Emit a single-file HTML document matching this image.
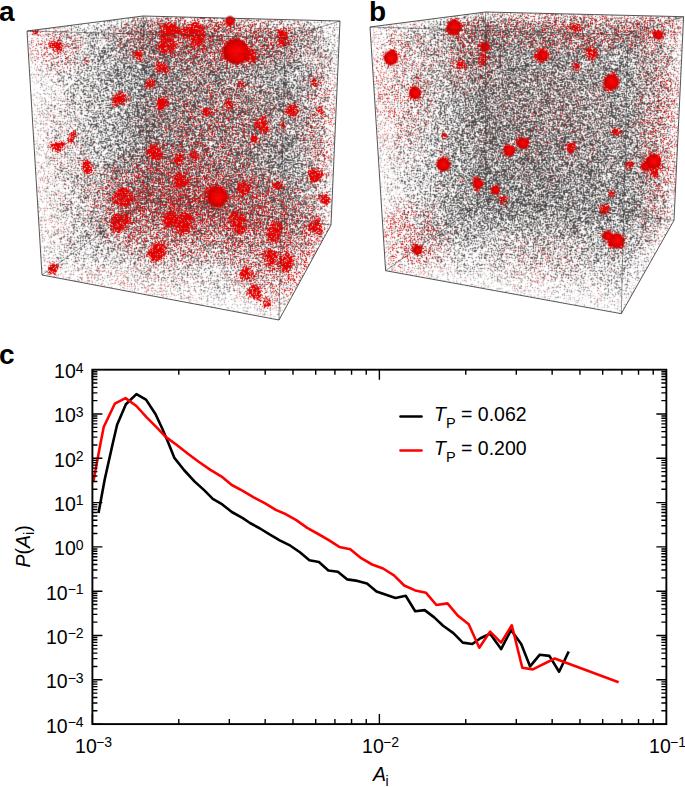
<!DOCTYPE html>
<html><head><meta charset="utf-8"><style>
html,body{margin:0;padding:0;background:#fff;}
svg{display:block;}
text{font-family:"Liberation Sans", sans-serif;fill:#000;}
.t{font-size:19.5px;}
.sup{font-size:14px;}
.lbl{font-size:28px;font-weight:bold;}
</style></head><body>
<svg width="685" height="787" viewBox="0 0 685 787">
<rect width="685" height="787" fill="#fff"/>
<defs>
<clipPath id="ca"><polygon points="27,31 143,16 340,21 331,225 279,320 42,275"/></clipPath>
<clipPath id="cb"><polygon points="370,27 485.5,12 683.6,16.7 674,220.3 621.3,313.7 385.6,270.7"/></clipPath>
<filter id="fg" filterUnits="userSpaceOnUse" primitiveUnits="userSpaceOnUse" x="0" y="0" width="685" height="330" color-interpolation-filters="sRGB">
<feGaussianBlur in="SourceGraphic" stdDeviation="3" result="s"/>
<feTurbulence type="fractalNoise" baseFrequency="2.7" numOctaves="1" seed="5"/>
<feColorMatrix type="matrix" values="1 0 0 0 0 1 0 0 0 0 1 0 0 0 0 0 0 0 0 1"/>
<feComponentTransfer result="ng"><feFuncR type="table" tableValues="1.000 1.000 1.000 1.000 1.000 0.999 0.998 0.995 0.990 0.979 0.959 0.926 0.876 0.807 0.719 0.614 0.500 0.386 0.281 0.193 0.124 0.074 0.041 0.021 0.010 0.005 0.002 0.001 0.000 0.000 0.000 0.000 0.000"/><feFuncG type="table" tableValues="1.000 1.000 1.000 1.000 1.000 0.999 0.998 0.995 0.990 0.979 0.959 0.926 0.876 0.807 0.719 0.614 0.500 0.386 0.281 0.193 0.124 0.074 0.041 0.021 0.010 0.005 0.002 0.001 0.000 0.000 0.000 0.000 0.000"/><feFuncB type="table" tableValues="1.000 1.000 1.000 1.000 1.000 0.999 0.998 0.995 0.990 0.979 0.959 0.926 0.876 0.807 0.719 0.614 0.500 0.386 0.281 0.193 0.124 0.074 0.041 0.021 0.010 0.005 0.002 0.001 0.000 0.000 0.000 0.000 0.000"/></feComponentTransfer>
<feComposite in="s" in2="ng" operator="arithmetic" k1="0" k2="4.0" k3="4.0" k4="-3.500"/>
<feConvolveMatrix order="3" kernelMatrix="0 1 0 1 4 1 0 1 0" edgeMode="duplicate"/>
<feComponentTransfer><feFuncR type="linear" slope="0.700" intercept="0.3"/><feFuncG type="linear" slope="0.700" intercept="0.3"/><feFuncB type="linear" slope="0.700" intercept="0.3"/></feComponentTransfer>
</filter>
<filter id="fr" filterUnits="userSpaceOnUse" primitiveUnits="userSpaceOnUse" x="0" y="0" width="685" height="330" color-interpolation-filters="sRGB">
<feGaussianBlur in="SourceAlpha" stdDeviation="1.6" result="s"/>
<feTurbulence type="fractalNoise" baseFrequency="1.5" numOctaves="1" seed="11"/>
<feColorMatrix type="matrix" values="0 0 0 0 0 0 0 0 0 0 0 0 0 0 0 1 0 0 0 0"/>
<feComponentTransfer result="ng"><feFuncA type="table" tableValues="1.000 1.000 1.000 1.000 1.000 0.999 0.998 0.995 0.990 0.979 0.959 0.926 0.876 0.807 0.719 0.614 0.500 0.386 0.281 0.193 0.124 0.074 0.041 0.021 0.010 0.005 0.002 0.001 0.000 0.000 0.000 0.000 0.000"/></feComponentTransfer>
<feComposite in="s" in2="ng" operator="arithmetic" k1="0" k2="5.0" k3="5.0" k4="-5.0"/>
<feColorMatrix type="matrix" values="0 0 0 0 0.9 0 0 0 0 0 0 0 0 0 0 0 0 0 1 0"/>
<feConvolveMatrix order="3" kernelMatrix="0 1 0 1 6 1 0 1 0" edgeMode="duplicate"/>
</filter>
<radialGradient id="hz"><stop offset="0" stop-color="#000"/><stop offset="0.5" stop-color="#000" stop-opacity="0.7"/><stop offset="1" stop-color="#000" stop-opacity="0"/></radialGradient>
<radialGradient id="cl"><stop offset="0" stop-color="#000"/><stop offset="0.45" stop-color="#000"/><stop offset="1" stop-color="#000" stop-opacity="0"/></radialGradient>
<radialGradient id="sph" cx="0.55" cy="0.5" r="0.6"><stop offset="0" stop-color="#ff0808"/><stop offset="0.55" stop-color="#e80000"/><stop offset="1" stop-color="#b00000"/></radialGradient>
<filter id="fs" filterUnits="userSpaceOnUse" primitiveUnits="userSpaceOnUse" x="0" y="0" width="685" height="330" color-interpolation-filters="sRGB">
<feTurbulence type="fractalNoise" baseFrequency="1.1" numOctaves="1" seed="3"/>
<feColorMatrix type="matrix" values="0 0 0 0 0.5 0 0 0 0 0 0 0 0 0 0 -4 0 0 0 1.7"/>
<feComposite operator="in" in2="SourceAlpha" result="sp"/>
<feMerge><feMergeNode in="SourceGraphic"/><feMergeNode in="sp"/></feMerge>
<feConvolveMatrix order="3" kernelMatrix="1 2 1 2 4 2 1 2 1" edgeMode="duplicate"/>
</filter>
</defs>
<g clip-path="url(#ca)"><g filter="url(#fg)"><rect width="345" height="330" fill="#fff"/>
<path fill="#595959" d="M150 195h5v5h-5z"/>
<path fill="#606060" d="M150 135h5v5h-5zM150 155h5v5h-5zM155 160h5v5h-5zM155 165h10v5h-10zM145 170h10v5h-10zM150 175h5v5h-5zM160 175h10v5h-10zM145 180h10v5h-10zM160 180h5v5h-5zM185 180h5v5h-5zM145 185h20v5h-20zM180 185h5v5h-5zM145 190h10v5h-10zM185 190h5v5h-5zM145 195h5v5h-5zM155 195h10v5h-10zM170 195h5v5h-5zM145 200h5v5h-5zM155 200h20v5h-20z"/>
<path fill="#666666" d="M160 55h5v5h-5zM150 65h5v5h-5zM150 80h5v5h-5zM150 85h5v5h-5zM145 90h10v5h-10zM150 95h15v5h-15zM145 105h15v5h-15zM175 105h5v5h-5zM145 110h15v5h-15zM145 115h15v5h-15zM165 115h5v5h-5zM145 120h10v5h-10zM160 120h10v5h-10zM140 125h15v5h-15zM160 125h15v5h-15zM145 130h20v5h-20zM140 135h10v5h-10zM155 135h5v5h-5zM165 135h15v5h-15zM195 135h5v5h-5zM150 140h15v5h-15zM200 140h5v5h-5zM140 145h45v5h-45zM200 145h5v5h-5zM145 150h15v5h-15zM165 150h10v5h-10zM180 150h15v5h-15zM140 155h10v5h-10zM155 155h5v5h-5zM170 155h5v5h-5zM145 160h10v5h-10zM160 160h5v5h-5zM170 160h10v5h-10zM145 165h10v5h-10zM165 165h20v5h-20zM195 165h5v5h-5zM140 170h5v5h-5zM155 170h50v5h-50zM145 175h5v5h-5zM155 175h5v5h-5zM175 175h10v5h-10zM190 175h5v5h-5zM140 180h5v5h-5zM155 180h5v5h-5zM165 180h20v5h-20zM195 180h10v5h-10zM140 185h5v5h-5zM165 185h15v5h-15zM185 185h10v5h-10zM205 185h5v5h-5zM140 190h5v5h-5zM155 190h30v5h-30zM195 190h5v5h-5zM210 190h5v5h-5zM140 195h5v5h-5zM165 195h5v5h-5zM175 195h15v5h-15zM195 195h10v5h-10zM140 200h5v5h-5zM150 200h5v5h-5zM175 200h25v5h-25zM205 200h15v5h-15zM155 205h5v5h-5zM175 205h10v5h-10zM190 205h20v5h-20zM215 205h5v5h-5z"/>
<path fill="#6c6c6c" d="M140 35h20v5h-20zM145 40h20v5h-20zM150 45h15v5h-15zM175 45h5v5h-5zM145 50h5v5h-5zM155 50h5v5h-5zM165 50h10v5h-10zM185 50h5v5h-5zM140 55h5v5h-5zM150 55h5v5h-5zM140 60h5v5h-5zM155 60h10v5h-10zM180 60h5v5h-5zM145 65h5v5h-5zM155 65h10v5h-10zM170 65h5v5h-5zM140 70h25v5h-25zM170 70h5v5h-5zM180 70h5v5h-5zM140 75h40v5h-40zM140 80h10v5h-10zM155 80h15v5h-15zM180 80h5v5h-5zM140 85h10v5h-10zM155 85h5v5h-5zM165 85h10v5h-10zM180 85h10v5h-10zM140 90h5v5h-5zM155 90h20v5h-20zM180 90h5v5h-5zM190 90h5v5h-5zM140 95h10v5h-10zM175 95h10v5h-10zM140 100h45v5h-45zM190 100h10v5h-10zM140 105h5v5h-5zM160 105h15v5h-15zM180 105h5v5h-5zM190 105h5v5h-5zM205 105h5v5h-5zM140 110h5v5h-5zM160 110h15v5h-15zM180 110h25v5h-25zM140 115h5v5h-5zM160 115h5v5h-5zM170 115h25v5h-25zM140 120h5v5h-5zM155 120h5v5h-5zM170 120h40v5h-40zM155 125h5v5h-5zM175 125h25v5h-25zM140 130h5v5h-5zM165 130h45v5h-45zM220 130h5v5h-5zM160 135h5v5h-5zM180 135h15v5h-15zM200 135h10v5h-10zM225 135h5v5h-5zM140 140h10v5h-10zM165 140h10v5h-10zM180 140h20v5h-20zM210 140h10v5h-10zM185 145h15v5h-15zM215 145h5v5h-5zM135 150h10v5h-10zM160 150h5v5h-5zM175 150h5v5h-5zM195 150h20v5h-20zM230 150h5v5h-5zM135 155h5v5h-5zM160 155h10v5h-10zM175 155h45v5h-45zM135 160h10v5h-10zM165 160h5v5h-5zM180 160h30v5h-30zM220 160h5v5h-5zM235 160h5v5h-5zM140 165h5v5h-5zM185 165h10v5h-10zM200 165h5v5h-5zM210 165h15v5h-15zM205 170h20v5h-20zM250 170h5v5h-5zM135 175h10v5h-10zM170 175h5v5h-5zM185 175h5v5h-5zM195 175h15v5h-15zM215 175h25v5h-25zM135 180h5v5h-5zM190 180h5v5h-5zM205 180h25v5h-25zM235 180h5v5h-5zM135 185h5v5h-5zM195 185h10v5h-10zM210 185h25v5h-25zM245 185h5v5h-5zM135 190h5v5h-5zM190 190h5v5h-5zM200 190h10v5h-10zM215 190h25v5h-25zM245 190h5v5h-5zM135 195h5v5h-5zM190 195h5v5h-5zM205 195h25v5h-25zM235 195h10v5h-10zM200 200h5v5h-5zM220 200h20v5h-20zM245 200h5v5h-5zM140 205h15v5h-15zM160 205h15v5h-15zM185 205h5v5h-5zM210 205h5v5h-5zM220 205h20v5h-20zM200 210h40v5h-40zM245 210h20v5h-20z"/>
<path fill="#737373" d="M145 30h15v5h-15zM135 35h5v5h-5zM160 35h20v5h-20zM190 35h5v5h-5zM200 35h5v5h-5zM210 35h5v5h-5zM135 40h10v5h-10zM165 40h10v5h-10zM180 40h5v5h-5zM190 40h20v5h-20zM135 45h15v5h-15zM165 45h10v5h-10zM180 45h10v5h-10zM195 45h10v5h-10zM135 50h10v5h-10zM150 50h5v5h-5zM160 50h5v5h-5zM175 50h10v5h-10zM190 50h10v5h-10zM210 50h5v5h-5zM220 50h5v5h-5zM135 55h5v5h-5zM145 55h5v5h-5zM155 55h5v5h-5zM165 55h25v5h-25zM195 55h15v5h-15zM145 60h10v5h-10zM165 60h15v5h-15zM185 60h15v5h-15zM205 60h10v5h-10zM220 60h5v5h-5zM135 65h10v5h-10zM165 65h5v5h-5zM175 65h25v5h-25zM205 65h20v5h-20zM135 70h5v5h-5zM165 70h5v5h-5zM175 70h5v5h-5zM185 70h15v5h-15zM220 70h5v5h-5zM180 75h30v5h-30zM215 75h5v5h-5zM135 80h5v5h-5zM170 80h10v5h-10zM185 80h5v5h-5zM195 80h10v5h-10zM225 80h5v5h-5zM135 85h5v5h-5zM160 85h5v5h-5zM175 85h5v5h-5zM190 85h20v5h-20zM215 85h5v5h-5zM175 90h5v5h-5zM185 90h5v5h-5zM195 90h35v5h-35zM135 95h5v5h-5zM165 95h10v5h-10zM185 95h35v5h-35zM135 100h5v5h-5zM185 100h5v5h-5zM200 100h20v5h-20zM240 100h5v5h-5zM135 105h5v5h-5zM185 105h5v5h-5zM195 105h10v5h-10zM210 105h10v5h-10zM225 105h10v5h-10zM135 110h5v5h-5zM175 110h5v5h-5zM205 110h5v5h-5zM220 110h10v5h-10zM235 110h10v5h-10zM135 115h5v5h-5zM195 115h35v5h-35zM255 115h5v5h-5zM275 115h5v5h-5zM135 120h5v5h-5zM210 120h25v5h-25zM270 120h5v5h-5zM130 125h10v5h-10zM200 125h45v5h-45zM250 125h10v5h-10zM130 130h10v5h-10zM210 130h10v5h-10zM225 130h15v5h-15zM250 130h5v5h-5zM260 130h5v5h-5zM135 135h5v5h-5zM210 135h15v5h-15zM230 135h15v5h-15zM135 140h5v5h-5zM175 140h5v5h-5zM205 140h5v5h-5zM220 140h20v5h-20zM245 140h10v5h-10zM135 145h5v5h-5zM205 145h10v5h-10zM220 145h15v5h-15zM240 145h10v5h-10zM215 150h15v5h-15zM235 150h10v5h-10zM250 150h5v5h-5zM265 150h10v5h-10zM130 155h5v5h-5zM220 155h40v5h-40zM130 160h5v5h-5zM210 160h10v5h-10zM225 160h10v5h-10zM240 160h20v5h-20zM135 165h5v5h-5zM205 165h5v5h-5zM225 165h50v5h-50zM135 170h5v5h-5zM225 170h25v5h-25zM260 170h5v5h-5zM130 175h5v5h-5zM210 175h5v5h-5zM240 175h25v5h-25zM275 175h5v5h-5zM230 180h5v5h-5zM240 180h25v5h-25zM130 185h5v5h-5zM235 185h10v5h-10zM250 185h30v5h-30zM130 190h5v5h-5zM240 190h5v5h-5zM250 190h20v5h-20zM275 190h5v5h-5zM130 195h5v5h-5zM230 195h5v5h-5zM245 195h20v5h-20zM270 195h10v5h-10zM130 200h10v5h-10zM240 200h5v5h-5zM250 200h30v5h-30zM130 205h10v5h-10zM240 205h35v5h-35zM280 205h5v5h-5zM140 210h15v5h-15zM160 210h40v5h-40zM240 210h5v5h-5zM265 210h15v5h-15zM250 215h5v5h-5zM265 215h15v5h-15z"/>
<path fill="#797979" d="M140 30h5v5h-5zM160 30h25v5h-25zM130 35h5v5h-5zM180 35h10v5h-10zM195 35h5v5h-5zM205 35h5v5h-5zM215 35h15v5h-15zM235 35h10v5h-10zM130 40h5v5h-5zM175 40h5v5h-5zM185 40h5v5h-5zM210 40h25v5h-25zM240 40h5v5h-5zM250 40h5v5h-5zM130 45h5v5h-5zM190 45h5v5h-5zM205 45h10v5h-10zM220 45h15v5h-15zM240 45h10v5h-10zM255 45h5v5h-5zM130 50h5v5h-5zM200 50h10v5h-10zM215 50h5v5h-5zM225 50h10v5h-10zM245 50h10v5h-10zM190 55h5v5h-5zM210 55h35v5h-35zM135 60h5v5h-5zM200 60h5v5h-5zM215 60h5v5h-5zM225 60h30v5h-30zM130 65h5v5h-5zM200 65h5v5h-5zM225 65h20v5h-20zM130 70h5v5h-5zM200 70h20v5h-20zM225 70h25v5h-25zM130 75h10v5h-10zM210 75h5v5h-5zM220 75h20v5h-20zM245 75h5v5h-5zM255 75h5v5h-5zM130 80h5v5h-5zM190 80h5v5h-5zM205 80h20v5h-20zM230 80h20v5h-20zM255 80h5v5h-5zM270 80h5v5h-5zM130 85h5v5h-5zM210 85h5v5h-5zM220 85h45v5h-45zM130 90h10v5h-10zM230 90h10v5h-10zM250 90h15v5h-15zM270 90h5v5h-5zM130 95h5v5h-5zM220 95h40v5h-40zM265 95h10v5h-10zM130 100h5v5h-5zM220 100h20v5h-20zM245 100h15v5h-15zM265 100h10v5h-10zM280 100h5v5h-5zM130 105h5v5h-5zM220 105h5v5h-5zM235 105h40v5h-40zM130 110h5v5h-5zM210 110h10v5h-10zM230 110h5v5h-5zM245 110h15v5h-15zM265 110h5v5h-5zM275 110h5v5h-5zM130 115h5v5h-5zM230 115h20v5h-20zM260 115h15v5h-15zM130 120h5v5h-5zM235 120h30v5h-30zM125 125h5v5h-5zM245 125h5v5h-5zM260 125h30v5h-30zM125 130h5v5h-5zM240 130h10v5h-10zM255 130h5v5h-5zM265 130h15v5h-15zM125 135h10v5h-10zM245 135h40v5h-40zM130 140h5v5h-5zM240 140h5v5h-5zM255 140h30v5h-30zM130 145h5v5h-5zM235 145h5v5h-5zM250 145h40v5h-40zM130 150h5v5h-5zM245 150h5v5h-5zM255 150h10v5h-10zM275 150h10v5h-10zM125 155h5v5h-5zM260 155h20v5h-20zM260 160h25v5h-25zM125 165h10v5h-10zM275 165h10v5h-10zM130 170h5v5h-5zM255 170h5v5h-5zM265 170h20v5h-20zM265 175h10v5h-10zM280 175h5v5h-5zM125 180h10v5h-10zM265 180h25v5h-25zM280 185h5v5h-5zM270 190h5v5h-5zM280 190h10v5h-10zM265 195h5v5h-5zM280 195h5v5h-5zM125 200h5v5h-5zM280 200h10v5h-10zM275 205h5v5h-5zM125 210h15v5h-15zM155 210h5v5h-5zM280 210h10v5h-10zM140 215h5v5h-5zM160 215h90v5h-90zM255 215h10v5h-10zM280 215h5v5h-5zM220 220h5v5h-5zM240 220h5v5h-5zM250 220h5v5h-5zM260 220h5v5h-5zM270 220h15v5h-15z"/>
<path fill="#808080" d="M130 30h10v5h-10zM185 30h15v5h-15zM210 30h5v5h-5zM125 35h5v5h-5zM230 35h5v5h-5zM245 35h10v5h-10zM260 35h5v5h-5zM125 40h5v5h-5zM235 40h5v5h-5zM245 40h5v5h-5zM255 40h30v5h-30zM215 45h5v5h-5zM235 45h5v5h-5zM250 45h5v5h-5zM260 45h20v5h-20zM235 50h10v5h-10zM255 50h20v5h-20zM280 50h5v5h-5zM125 55h10v5h-10zM245 55h20v5h-20zM270 55h15v5h-15zM125 60h10v5h-10zM255 60h10v5h-10zM270 60h15v5h-15zM245 65h40v5h-40zM125 70h5v5h-5zM250 70h35v5h-35zM125 75h5v5h-5zM240 75h5v5h-5zM250 75h5v5h-5zM260 75h25v5h-25zM250 80h5v5h-5zM260 80h10v5h-10zM275 80h10v5h-10zM125 85h5v5h-5zM265 85h25v5h-25zM240 90h10v5h-10zM265 90h5v5h-5zM275 90h15v5h-15zM125 95h5v5h-5zM260 95h5v5h-5zM275 95h10v5h-10zM125 100h5v5h-5zM260 100h5v5h-5zM275 100h5v5h-5zM285 100h5v5h-5zM125 105h5v5h-5zM275 105h15v5h-15zM125 110h5v5h-5zM260 110h5v5h-5zM270 110h5v5h-5zM280 110h10v5h-10zM125 115h5v5h-5zM250 115h5v5h-5zM280 115h10v5h-10zM125 120h5v5h-5zM265 120h5v5h-5zM275 120h20v5h-20zM280 130h15v5h-15zM125 140h5v5h-5zM285 140h5v5h-5zM125 145h5v5h-5zM120 150h10v5h-10zM280 155h10v5h-10zM125 160h5v5h-5zM285 160h5v5h-5zM120 165h5v5h-5zM285 165h10v5h-10zM120 170h10v5h-10zM285 170h10v5h-10zM125 175h5v5h-5zM285 175h10v5h-10zM290 180h5v5h-5zM120 185h10v5h-10zM285 185h10v5h-10zM120 190h10v5h-10zM290 190h5v5h-5zM120 195h10v5h-10zM285 195h10v5h-10zM120 200h5v5h-5zM290 200h5v5h-5zM120 205h10v5h-10zM285 205h5v5h-5zM120 210h5v5h-5zM290 210h5v5h-5zM125 215h5v5h-5zM135 215h5v5h-5zM145 215h15v5h-15zM285 215h10v5h-10zM170 220h5v5h-5zM195 220h25v5h-25zM225 220h15v5h-15zM245 220h5v5h-5zM255 220h5v5h-5zM265 220h5v5h-5zM285 220h5v5h-5zM250 225h10v5h-10zM275 225h10v5h-10z"/>
<path fill="#868686" d="M140 25h10v5h-10zM165 25h5v5h-5zM125 30h5v5h-5zM200 30h10v5h-10zM215 30h10v5h-10zM230 30h5v5h-5zM250 30h5v5h-5zM120 35h5v5h-5zM255 35h5v5h-5zM265 35h25v5h-25zM285 40h5v5h-5zM120 45h10v5h-10zM280 45h10v5h-10zM125 50h5v5h-5zM275 50h5v5h-5zM285 50h10v5h-10zM120 55h5v5h-5zM265 55h5v5h-5zM285 55h5v5h-5zM115 60h10v5h-10zM265 60h5v5h-5zM285 60h10v5h-10zM120 65h10v5h-10zM285 65h10v5h-10zM120 70h5v5h-5zM285 70h10v5h-10zM285 75h10v5h-10zM120 80h10v5h-10zM285 80h10v5h-10zM120 85h5v5h-5zM290 85h5v5h-5zM120 90h10v5h-10zM290 90h5v5h-5zM120 95h5v5h-5zM285 95h10v5h-10zM290 100h5v5h-5zM120 105h5v5h-5zM120 110h5v5h-5zM290 110h5v5h-5zM120 115h5v5h-5zM290 115h5v5h-5zM120 120h5v5h-5zM115 125h10v5h-10zM290 125h10v5h-10zM120 135h5v5h-5zM285 135h10v5h-10zM120 140h5v5h-5zM290 140h5v5h-5zM115 145h10v5h-10zM290 145h5v5h-5zM285 150h10v5h-10zM120 155h5v5h-5zM290 155h10v5h-10zM120 160h5v5h-5zM290 160h5v5h-5zM295 165h5v5h-5zM295 170h5v5h-5zM115 175h10v5h-10zM295 175h5v5h-5zM120 180h5v5h-5zM295 180h5v5h-5zM295 190h5v5h-5zM295 195h5v5h-5zM290 205h10v5h-10zM115 215h10v5h-10zM130 215h5v5h-5zM295 215h5v5h-5zM120 220h50v5h-50zM175 220h20v5h-20zM290 220h10v5h-10zM200 225h5v5h-5zM210 225h30v5h-30zM245 225h5v5h-5zM260 225h15v5h-15zM285 225h5v5h-5z"/>
<path fill="#8c8c8c" d="M135 25h5v5h-5zM150 25h15v5h-15zM170 25h15v5h-15zM205 25h5v5h-5zM120 30h5v5h-5zM225 30h5v5h-5zM235 30h15v5h-15zM255 30h20v5h-20zM115 35h5v5h-5zM290 35h10v5h-10zM115 40h10v5h-10zM290 40h15v5h-15zM115 45h5v5h-5zM290 45h10v5h-10zM120 50h5v5h-5zM295 50h5v5h-5zM290 55h5v5h-5zM295 60h5v5h-5zM115 65h5v5h-5zM295 65h5v5h-5zM115 70h5v5h-5zM295 70h5v5h-5zM115 75h10v5h-10zM295 75h5v5h-5zM115 80h5v5h-5zM295 80h5v5h-5zM295 85h5v5h-5zM115 90h5v5h-5zM295 90h5v5h-5zM115 95h5v5h-5zM295 95h10v5h-10zM115 100h10v5h-10zM295 100h10v5h-10zM115 105h5v5h-5zM290 105h10v5h-10zM115 110h5v5h-5zM295 110h5v5h-5zM115 115h5v5h-5zM295 115h5v5h-5zM115 120h5v5h-5zM295 120h5v5h-5zM300 125h5v5h-5zM115 130h10v5h-10zM295 130h5v5h-5zM115 135h5v5h-5zM295 135h5v5h-5zM115 140h5v5h-5zM295 140h5v5h-5zM295 145h5v5h-5zM115 150h5v5h-5zM295 150h10v5h-10zM115 155h5v5h-5zM115 160h5v5h-5zM295 160h5v5h-5zM115 165h5v5h-5zM115 170h5v5h-5zM110 175h5v5h-5zM115 180h5v5h-5zM110 185h10v5h-10zM295 185h5v5h-5zM115 190h5v5h-5zM110 195h10v5h-10zM110 200h10v5h-10zM295 200h10v5h-10zM110 205h10v5h-10zM300 205h5v5h-5zM110 210h10v5h-10zM295 210h5v5h-5zM110 215h5v5h-5zM110 220h10v5h-10zM300 220h5v5h-5zM130 225h5v5h-5zM145 225h10v5h-10zM160 225h40v5h-40zM205 225h5v5h-5zM240 225h5v5h-5zM290 225h5v5h-5zM190 230h20v5h-20zM225 230h5v5h-5zM240 230h15v5h-15zM260 230h25v5h-25z"/>
<path fill="#939393" d="M130 25h5v5h-5zM185 25h20v5h-20zM115 30h5v5h-5zM275 30h20v5h-20zM300 35h5v5h-5zM110 40h5v5h-5zM110 45h5v5h-5zM300 45h5v5h-5zM105 50h15v5h-15zM300 50h5v5h-5zM115 55h5v5h-5zM295 55h5v5h-5zM110 60h5v5h-5zM300 60h5v5h-5zM110 65h5v5h-5zM110 70h5v5h-5zM300 70h5v5h-5zM110 75h5v5h-5zM300 75h5v5h-5zM110 80h5v5h-5zM300 80h5v5h-5zM115 85h5v5h-5zM300 85h5v5h-5zM110 90h5v5h-5zM300 90h5v5h-5zM110 95h5v5h-5zM110 100h5v5h-5zM105 105h10v5h-10zM300 105h5v5h-5zM110 110h5v5h-5zM110 115h5v5h-5zM300 115h5v5h-5zM110 120h5v5h-5zM300 120h5v5h-5zM105 125h10v5h-10zM105 130h10v5h-10zM300 130h5v5h-5zM110 135h5v5h-5zM300 135h10v5h-10zM110 140h5v5h-5zM300 140h5v5h-5zM105 145h10v5h-10zM300 145h5v5h-5zM110 150h5v5h-5zM110 155h5v5h-5zM300 155h5v5h-5zM110 160h5v5h-5zM300 160h5v5h-5zM105 165h10v5h-10zM300 165h5v5h-5zM110 170h5v5h-5zM300 170h10v5h-10zM300 175h5v5h-5zM110 180h5v5h-5zM300 180h5v5h-5zM300 185h5v5h-5zM110 190h5v5h-5zM300 190h10v5h-10zM300 195h5v5h-5zM105 200h5v5h-5zM305 200h5v5h-5zM105 205h5v5h-5zM105 210h5v5h-5zM300 210h5v5h-5zM105 215h5v5h-5zM300 215h5v5h-5zM105 225h5v5h-5zM115 225h15v5h-15zM135 225h10v5h-10zM155 225h5v5h-5zM295 225h5v5h-5zM145 230h5v5h-5zM155 230h15v5h-15zM185 230h5v5h-5zM210 230h15v5h-15zM230 230h10v5h-10zM255 230h5v5h-5zM285 230h10v5h-10zM220 235h5v5h-5zM230 235h45v5h-45zM280 235h5v5h-5zM260 240h5v5h-5z"/>
<path fill="#999999" d="M125 25h5v5h-5zM210 25h30v5h-30zM295 30h15v5h-15zM105 35h10v5h-10zM305 35h5v5h-5zM305 45h5v5h-5zM305 50h5v5h-5zM105 55h10v5h-10zM300 55h10v5h-10zM305 60h5v5h-5zM105 65h5v5h-5zM300 65h10v5h-10zM100 70h5v5h-5zM305 70h5v5h-5zM105 75h5v5h-5zM105 80h5v5h-5zM305 80h5v5h-5zM105 85h10v5h-10zM305 85h5v5h-5zM105 90h5v5h-5zM100 95h10v5h-10zM305 95h5v5h-5zM105 100h5v5h-5zM305 105h5v5h-5zM105 110h5v5h-5zM300 110h10v5h-10zM305 115h5v5h-5zM105 120h5v5h-5zM305 120h5v5h-5zM305 125h5v5h-5zM305 130h5v5h-5zM105 135h5v5h-5zM105 140h5v5h-5zM305 140h5v5h-5zM305 145h5v5h-5zM105 150h5v5h-5zM305 150h5v5h-5zM105 155h5v5h-5zM305 155h5v5h-5zM105 160h5v5h-5zM305 160h5v5h-5zM105 170h5v5h-5zM105 175h5v5h-5zM305 175h5v5h-5zM105 180h5v5h-5zM305 180h5v5h-5zM105 185h5v5h-5zM305 185h5v5h-5zM105 190h5v5h-5zM105 195h5v5h-5zM305 195h5v5h-5zM100 205h5v5h-5zM305 215h5v5h-5zM100 220h10v5h-10zM305 220h5v5h-5zM110 225h5v5h-5zM120 230h25v5h-25zM150 230h5v5h-5zM170 230h15v5h-15zM160 235h10v5h-10zM180 235h5v5h-5zM190 235h15v5h-15zM210 235h10v5h-10zM225 235h5v5h-5zM275 235h5v5h-5zM285 235h5v5h-5zM240 240h5v5h-5zM250 240h10v5h-10zM265 240h20v5h-20z"/>
<path fill="#9f9f9f" d="M145 20h5v5h-5zM155 20h5v5h-5zM120 25h5v5h-5zM240 25h5v5h-5zM250 25h10v5h-10zM105 30h10v5h-10zM100 35h5v5h-5zM310 35h5v5h-5zM105 40h5v5h-5zM305 40h5v5h-5zM100 45h10v5h-10zM100 50h5v5h-5zM310 50h5v5h-5zM95 55h10v5h-10zM310 55h5v5h-5zM95 60h15v5h-15zM100 65h5v5h-5zM105 70h5v5h-5zM310 70h5v5h-5zM100 75h5v5h-5zM305 75h5v5h-5zM100 80h5v5h-5zM100 85h5v5h-5zM100 90h5v5h-5zM305 90h10v5h-10zM310 95h5v5h-5zM100 100h5v5h-5zM305 100h5v5h-5zM100 105h5v5h-5zM100 110h5v5h-5zM310 110h5v5h-5zM95 115h15v5h-15zM310 115h5v5h-5zM100 120h5v5h-5zM310 120h5v5h-5zM100 130h5v5h-5zM100 135h5v5h-5zM310 135h5v5h-5zM100 140h5v5h-5zM310 140h5v5h-5zM100 145h5v5h-5zM100 150h5v5h-5zM310 150h5v5h-5zM100 155h5v5h-5zM310 155h5v5h-5zM100 160h5v5h-5zM310 160h5v5h-5zM95 165h10v5h-10zM305 165h5v5h-5zM100 170h5v5h-5zM310 170h5v5h-5zM100 175h5v5h-5zM95 180h10v5h-10zM310 180h5v5h-5zM100 185h5v5h-5zM100 190h5v5h-5zM100 195h5v5h-5zM100 200h5v5h-5zM305 205h5v5h-5zM100 210h5v5h-5zM305 210h5v5h-5zM100 215h5v5h-5zM95 225h10v5h-10zM300 225h10v5h-10zM100 230h20v5h-20zM295 230h5v5h-5zM115 235h5v5h-5zM130 235h30v5h-30zM170 235h10v5h-10zM185 235h5v5h-5zM205 235h5v5h-5zM290 235h5v5h-5zM160 240h5v5h-5zM170 240h10v5h-10zM190 240h50v5h-50zM245 240h5v5h-5zM285 240h5v5h-5zM250 245h35v5h-35z"/>
<path fill="#a6a6a6" d="M140 20h5v5h-5zM150 20h5v5h-5zM160 20h15v5h-15zM245 25h5v5h-5zM260 25h15v5h-15zM280 25h5v5h-5zM290 25h5v5h-5zM100 30h5v5h-5zM310 30h5v5h-5zM95 40h10v5h-10zM310 40h5v5h-5zM95 45h5v5h-5zM310 45h5v5h-5zM95 50h5v5h-5zM310 60h10v5h-10zM310 65h5v5h-5zM95 70h5v5h-5zM95 75h5v5h-5zM310 75h5v5h-5zM95 80h5v5h-5zM310 80h5v5h-5zM95 85h5v5h-5zM310 85h10v5h-10zM90 95h10v5h-10zM95 100h5v5h-5zM310 100h5v5h-5zM95 105h5v5h-5zM310 105h5v5h-5zM95 110h5v5h-5zM95 120h5v5h-5zM95 125h10v5h-10zM310 125h5v5h-5zM95 130h5v5h-5zM310 130h5v5h-5zM95 135h5v5h-5zM95 140h5v5h-5zM90 145h10v5h-10zM310 145h5v5h-5zM95 150h5v5h-5zM95 155h5v5h-5zM90 160h10v5h-10zM310 165h5v5h-5zM95 170h5v5h-5zM95 175h5v5h-5zM310 175h5v5h-5zM90 185h10v5h-10zM310 185h5v5h-5zM95 190h5v5h-5zM310 190h5v5h-5zM95 195h5v5h-5zM310 195h5v5h-5zM95 200h5v5h-5zM310 200h5v5h-5zM95 205h5v5h-5zM310 205h5v5h-5zM95 210h5v5h-5zM310 210h5v5h-5zM90 215h10v5h-10zM310 215h5v5h-5zM95 220h5v5h-5zM310 220h5v5h-5zM95 230h5v5h-5zM300 230h5v5h-5zM95 235h20v5h-20zM120 235h10v5h-10zM295 235h5v5h-5zM125 240h10v5h-10zM140 240h20v5h-20zM165 240h5v5h-5zM180 240h10v5h-10zM290 240h5v5h-5zM200 245h50v5h-50zM285 245h5v5h-5zM215 250h5v5h-5zM230 250h5v5h-5zM250 250h15v5h-15zM270 250h5v5h-5z"/>
<path fill="#acacac" d="M135 20h5v5h-5zM175 20h20v5h-20zM110 25h10v5h-10zM275 25h5v5h-5zM285 25h5v5h-5zM295 25h20v5h-20zM95 30h5v5h-5zM315 30h5v5h-5zM95 35h5v5h-5zM315 35h5v5h-5zM85 40h10v5h-10zM90 45h5v5h-5zM315 45h5v5h-5zM90 50h5v5h-5zM315 50h5v5h-5zM90 55h5v5h-5zM315 55h5v5h-5zM90 60h5v5h-5zM90 65h10v5h-10zM315 65h5v5h-5zM90 70h5v5h-5zM315 70h5v5h-5zM90 75h5v5h-5zM315 75h5v5h-5zM90 80h5v5h-5zM315 80h5v5h-5zM90 85h5v5h-5zM85 90h5v5h-5zM95 90h5v5h-5zM315 95h5v5h-5zM85 100h10v5h-10zM315 100h5v5h-5zM90 105h5v5h-5zM315 105h5v5h-5zM90 110h5v5h-5zM315 110h5v5h-5zM90 115h5v5h-5zM315 115h5v5h-5zM90 120h5v5h-5zM315 120h5v5h-5zM90 125h5v5h-5zM315 125h5v5h-5zM85 130h10v5h-10zM315 130h5v5h-5zM90 135h5v5h-5zM90 140h5v5h-5zM315 140h5v5h-5zM90 150h5v5h-5zM315 150h5v5h-5zM90 155h5v5h-5zM315 155h5v5h-5zM85 165h10v5h-10zM315 165h5v5h-5zM90 170h5v5h-5zM85 175h10v5h-10zM90 180h5v5h-5zM315 180h5v5h-5zM90 190h5v5h-5zM90 195h5v5h-5zM90 200h5v5h-5zM90 205h5v5h-5zM85 210h10v5h-10zM85 215h5v5h-5zM90 220h5v5h-5zM90 225h5v5h-5zM310 225h5v5h-5zM305 230h5v5h-5zM90 235h5v5h-5zM300 235h5v5h-5zM105 240h5v5h-5zM120 240h5v5h-5zM135 240h5v5h-5zM295 240h5v5h-5zM150 245h50v5h-50zM290 245h5v5h-5zM185 250h10v5h-10zM210 250h5v5h-5zM220 250h10v5h-10zM235 250h15v5h-15zM265 250h5v5h-5zM275 250h15v5h-15zM250 255h30v5h-30z"/>
<path fill="#b2b2b2" d="M130 20h5v5h-5zM195 20h15v5h-15zM105 25h5v5h-5zM315 25h10v5h-10zM85 30h10v5h-10zM320 30h5v5h-5zM85 35h10v5h-10zM315 40h5v5h-5zM85 45h5v5h-5zM85 50h5v5h-5zM85 55h5v5h-5zM85 60h5v5h-5zM85 65h5v5h-5zM80 70h10v5h-10zM85 75h5v5h-5zM80 80h10v5h-10zM85 85h5v5h-5zM90 90h5v5h-5zM315 90h5v5h-5zM85 95h5v5h-5zM85 110h5v5h-5zM85 115h5v5h-5zM85 120h5v5h-5zM80 125h10v5h-10zM85 135h5v5h-5zM315 135h5v5h-5zM80 140h10v5h-10zM85 145h5v5h-5zM315 145h5v5h-5zM85 150h5v5h-5zM85 155h5v5h-5zM85 160h5v5h-5zM315 160h5v5h-5zM85 170h5v5h-5zM315 170h5v5h-5zM315 175h5v5h-5zM85 180h5v5h-5zM85 185h5v5h-5zM315 185h5v5h-5zM85 190h5v5h-5zM315 190h5v5h-5zM85 195h5v5h-5zM315 195h5v5h-5zM85 200h5v5h-5zM315 200h5v5h-5zM85 205h5v5h-5zM315 205h5v5h-5zM315 210h5v5h-5zM315 215h5v5h-5zM85 220h5v5h-5zM315 220h5v5h-5zM85 225h5v5h-5zM85 230h10v5h-10zM85 235h5v5h-5zM85 240h20v5h-20zM110 240h10v5h-10zM110 245h10v5h-10zM125 245h25v5h-25zM295 245h5v5h-5zM145 250h5v5h-5zM155 250h30v5h-30zM195 250h15v5h-15zM290 250h5v5h-5zM205 255h45v5h-45zM280 255h10v5h-10zM270 260h15v5h-15z"/>
<path fill="#b9b9b9" d="M210 20h20v5h-20zM100 25h5v5h-5zM80 30h5v5h-5zM80 35h5v5h-5zM320 35h5v5h-5zM75 40h10v5h-10zM320 40h5v5h-5zM75 45h10v5h-10zM320 45h5v5h-5zM80 50h5v5h-5zM320 50h5v5h-5zM75 55h10v5h-10zM320 55h5v5h-5zM80 60h5v5h-5zM320 60h5v5h-5zM80 65h5v5h-5zM320 65h5v5h-5zM320 70h5v5h-5zM80 75h5v5h-5zM320 75h5v5h-5zM80 85h5v5h-5zM320 85h5v5h-5zM80 90h5v5h-5zM320 90h5v5h-5zM80 95h5v5h-5zM320 95h5v5h-5zM80 100h5v5h-5zM320 100h5v5h-5zM80 105h10v5h-10zM80 110h5v5h-5zM80 115h5v5h-5zM80 120h5v5h-5zM320 120h5v5h-5zM80 130h5v5h-5zM320 130h5v5h-5zM80 135h5v5h-5zM320 135h5v5h-5zM80 145h5v5h-5zM75 150h10v5h-10zM80 155h5v5h-5zM80 160h5v5h-5zM80 165h5v5h-5zM80 170h5v5h-5zM80 175h5v5h-5zM80 180h5v5h-5zM75 185h10v5h-10zM80 190h5v5h-5zM80 195h5v5h-5zM80 200h5v5h-5zM80 205h5v5h-5zM80 210h5v5h-5zM80 215h5v5h-5zM80 220h5v5h-5zM80 225h5v5h-5zM315 225h5v5h-5zM80 230h5v5h-5zM310 230h5v5h-5zM80 235h5v5h-5zM305 235h5v5h-5zM80 240h5v5h-5zM300 240h5v5h-5zM80 245h5v5h-5zM95 245h15v5h-15zM120 245h5v5h-5zM120 250h15v5h-15zM140 250h5v5h-5zM150 250h5v5h-5zM295 250h5v5h-5zM175 255h30v5h-30zM200 260h5v5h-5zM210 260h10v5h-10zM225 260h5v5h-5zM235 260h35v5h-35zM245 265h15v5h-15zM265 265h10v5h-10zM280 265h5v5h-5z"/>
<path fill="#bfbfbf" d="M120 20h10v5h-10zM230 20h25v5h-25zM95 25h5v5h-5zM75 30h5v5h-5zM70 35h10v5h-10zM70 50h10v5h-10zM75 60h5v5h-5zM70 65h10v5h-10zM75 70h5v5h-5zM70 75h10v5h-10zM75 80h5v5h-5zM320 80h5v5h-5zM75 85h5v5h-5zM75 90h5v5h-5zM75 95h5v5h-5zM70 100h10v5h-10zM75 105h5v5h-5zM320 105h5v5h-5zM75 110h5v5h-5zM320 110h5v5h-5zM75 115h5v5h-5zM320 115h5v5h-5zM75 120h5v5h-5zM75 125h5v5h-5zM320 125h5v5h-5zM75 130h5v5h-5zM75 135h5v5h-5zM75 140h5v5h-5zM320 140h5v5h-5zM75 145h5v5h-5zM320 145h5v5h-5zM70 150h5v5h-5zM320 150h5v5h-5zM70 155h10v5h-10zM320 155h5v5h-5zM75 160h5v5h-5zM320 160h5v5h-5zM75 165h5v5h-5zM320 165h5v5h-5zM75 170h5v5h-5zM320 170h5v5h-5zM75 175h5v5h-5zM320 175h5v5h-5zM75 180h5v5h-5zM320 180h5v5h-5zM75 190h5v5h-5zM75 195h5v5h-5zM75 200h5v5h-5zM320 200h5v5h-5zM75 205h5v5h-5zM75 210h5v5h-5zM320 210h5v5h-5zM75 220h5v5h-5zM75 225h5v5h-5zM75 230h5v5h-5zM75 235h5v5h-5zM305 240h5v5h-5zM75 245h5v5h-5zM85 245h10v5h-10zM300 245h5v5h-5zM80 250h10v5h-10zM100 250h20v5h-20zM135 250h5v5h-5zM120 255h5v5h-5zM130 255h10v5h-10zM145 255h30v5h-30zM290 255h5v5h-5zM155 260h5v5h-5zM175 260h5v5h-5zM185 260h15v5h-15zM205 260h5v5h-5zM220 260h5v5h-5zM230 260h5v5h-5zM285 260h5v5h-5zM205 265h5v5h-5zM225 265h20v5h-20zM260 265h5v5h-5zM275 265h5v5h-5zM235 270h5v5h-5zM260 270h20v5h-20z"/>
<path fill="#c6c6c6" d="M255 20h15v5h-15zM275 20h5v5h-5zM90 25h5v5h-5zM325 25h5v5h-5zM65 30h10v5h-10zM325 30h5v5h-5zM325 35h5v5h-5zM65 40h10v5h-10zM70 45h5v5h-5zM325 45h5v5h-5zM65 50h5v5h-5zM325 50h5v5h-5zM65 55h10v5h-10zM325 55h5v5h-5zM70 60h5v5h-5zM325 60h5v5h-5zM65 70h10v5h-10zM70 80h5v5h-5zM65 85h10v5h-10zM70 90h5v5h-5zM65 95h10v5h-10zM65 105h10v5h-10zM70 110h5v5h-5zM65 115h10v5h-10zM70 120h5v5h-5zM70 125h5v5h-5zM70 130h5v5h-5zM70 135h5v5h-5zM70 140h5v5h-5zM70 145h5v5h-5zM65 155h5v5h-5zM70 160h5v5h-5zM70 165h5v5h-5zM70 170h5v5h-5zM70 175h5v5h-5zM70 180h5v5h-5zM70 185h5v5h-5zM320 185h5v5h-5zM70 190h5v5h-5zM320 190h5v5h-5zM70 195h5v5h-5zM320 195h5v5h-5zM70 205h5v5h-5zM320 205h5v5h-5zM70 210h5v5h-5zM70 215h10v5h-10zM320 215h5v5h-5zM320 220h5v5h-5zM70 225h5v5h-5zM70 230h5v5h-5zM70 235h5v5h-5zM310 235h5v5h-5zM70 240h10v5h-10zM70 245h5v5h-5zM70 250h10v5h-10zM90 250h10v5h-10zM300 250h5v5h-5zM85 255h20v5h-20zM110 255h10v5h-10zM125 255h5v5h-5zM140 255h5v5h-5zM295 255h5v5h-5zM145 260h5v5h-5zM160 260h15v5h-15zM180 260h5v5h-5zM290 260h5v5h-5zM180 265h25v5h-25zM210 265h15v5h-15zM285 265h5v5h-5zM195 270h5v5h-5zM215 270h5v5h-5zM225 270h5v5h-5zM240 270h20v5h-20zM280 270h5v5h-5zM240 275h5v5h-5zM260 275h5v5h-5zM270 275h10v5h-10z"/>
<path fill="#cccccc" d="M115 20h5v5h-5zM270 20h5v5h-5zM280 20h10v5h-10zM295 20h10v5h-10zM85 25h5v5h-5zM60 30h5v5h-5zM60 35h10v5h-10zM60 40h5v5h-5zM325 40h5v5h-5zM60 45h10v5h-10zM60 55h5v5h-5zM60 60h10v5h-10zM60 65h10v5h-10zM325 65h5v5h-5zM60 70h5v5h-5zM325 70h5v5h-5zM65 75h5v5h-5zM325 75h5v5h-5zM65 80h5v5h-5zM325 80h5v5h-5zM60 85h5v5h-5zM325 85h5v5h-5zM65 90h5v5h-5zM325 90h5v5h-5zM325 95h5v5h-5zM65 100h5v5h-5zM325 100h5v5h-5zM325 105h5v5h-5zM65 110h5v5h-5zM325 110h5v5h-5zM60 120h10v5h-10zM325 120h5v5h-5zM65 125h5v5h-5zM65 130h5v5h-5zM65 135h5v5h-5zM65 140h5v5h-5zM65 145h5v5h-5zM65 165h5v5h-5zM65 175h5v5h-5zM65 180h5v5h-5zM65 185h5v5h-5zM65 190h5v5h-5zM65 195h5v5h-5zM65 200h10v5h-10zM65 205h5v5h-5zM65 210h5v5h-5zM65 215h5v5h-5zM65 220h10v5h-10zM65 225h5v5h-5zM320 225h5v5h-5zM315 230h5v5h-5zM65 235h5v5h-5zM65 240h5v5h-5zM310 240h5v5h-5zM305 245h5v5h-5zM75 255h10v5h-10zM105 255h5v5h-5zM105 260h5v5h-5zM115 260h5v5h-5zM125 260h20v5h-20zM150 260h5v5h-5zM295 260h5v5h-5zM145 265h35v5h-35zM290 265h5v5h-5zM180 270h15v5h-15zM200 270h15v5h-15zM220 270h5v5h-5zM230 270h5v5h-5zM285 270h5v5h-5zM215 275h10v5h-10zM230 275h5v5h-5zM245 275h15v5h-15zM265 275h5v5h-5zM280 275h5v5h-5zM255 280h25v5h-25z"/>
<path fill="#d2d2d2" d="M155 5h5v5h-5zM150 10h15v5h-15zM145 15h10v5h-10zM160 15h10v5h-10zM290 20h5v5h-5zM305 20h10v5h-10zM80 25h5v5h-5zM55 30h5v5h-5zM330 35h5v5h-5zM55 40h5v5h-5zM55 45h5v5h-5zM55 50h10v5h-10zM55 60h5v5h-5zM55 70h5v5h-5zM55 75h10v5h-10zM60 80h5v5h-5zM60 90h5v5h-5zM60 95h5v5h-5zM60 100h5v5h-5zM55 105h10v5h-10zM60 110h5v5h-5zM60 115h5v5h-5zM325 115h5v5h-5zM55 120h5v5h-5zM60 125h5v5h-5zM325 125h5v5h-5zM60 130h5v5h-5zM325 130h5v5h-5zM60 135h5v5h-5zM325 135h5v5h-5zM60 140h5v5h-5zM325 140h5v5h-5zM60 145h5v5h-5zM325 145h5v5h-5zM60 150h10v5h-10zM325 150h5v5h-5zM60 155h5v5h-5zM325 155h5v5h-5zM60 160h10v5h-10zM325 160h5v5h-5zM60 165h5v5h-5zM325 165h5v5h-5zM60 170h10v5h-10zM325 170h5v5h-5zM60 175h5v5h-5zM325 175h5v5h-5zM60 180h5v5h-5zM60 185h5v5h-5zM60 190h5v5h-5zM60 195h5v5h-5zM60 200h5v5h-5zM60 205h5v5h-5zM60 220h5v5h-5zM60 225h5v5h-5zM60 230h10v5h-10zM60 235h5v5h-5zM315 235h5v5h-5zM60 245h10v5h-10zM65 250h5v5h-5zM60 255h15v5h-15zM300 255h5v5h-5zM85 260h20v5h-20zM110 260h5v5h-5zM120 260h5v5h-5zM120 265h25v5h-25zM145 270h15v5h-15zM165 270h15v5h-15zM290 270h5v5h-5zM190 275h5v5h-5zM200 275h15v5h-15zM225 275h5v5h-5zM235 275h5v5h-5zM285 275h5v5h-5zM215 280h5v5h-5zM225 280h5v5h-5zM235 280h20v5h-20zM280 280h5v5h-5zM260 285h5v5h-5zM270 285h10v5h-10z"/>
<path fill="#d9d9d9" d="M140 0h45v5h-45zM140 5h15v5h-15zM160 5h25v5h-25zM140 10h10v5h-10zM165 10h25v5h-25zM320 10h10v5h-10zM140 15h5v5h-5zM155 15h5v5h-5zM170 15h15v5h-15zM190 15h5v5h-5zM310 15h20v5h-20zM110 20h5v5h-5zM315 20h15v5h-15zM75 25h5v5h-5zM330 25h5v5h-5zM50 30h5v5h-5zM330 30h5v5h-5zM55 35h5v5h-5zM50 40h5v5h-5zM330 40h5v5h-5zM50 50h5v5h-5zM330 50h5v5h-5zM55 55h5v5h-5zM330 55h5v5h-5zM50 60h5v5h-5zM55 65h5v5h-5zM50 70h5v5h-5zM50 80h10v5h-10zM50 85h10v5h-10zM55 90h5v5h-5zM50 95h10v5h-10zM50 100h10v5h-10zM55 110h5v5h-5zM55 115h5v5h-5zM55 125h5v5h-5zM55 130h5v5h-5zM55 135h5v5h-5zM55 140h5v5h-5zM55 150h5v5h-5zM55 155h5v5h-5zM55 160h5v5h-5zM55 165h5v5h-5zM55 170h5v5h-5zM55 175h5v5h-5zM55 180h5v5h-5zM325 180h5v5h-5zM55 185h5v5h-5zM325 185h5v5h-5zM55 190h5v5h-5zM325 190h5v5h-5zM325 195h5v5h-5zM325 200h5v5h-5zM55 205h5v5h-5zM60 210h5v5h-5zM325 210h5v5h-5zM60 215h5v5h-5zM55 235h5v5h-5zM60 240h5v5h-5zM310 245h5v5h-5zM60 250h5v5h-5zM305 250h5v5h-5zM60 260h25v5h-25zM300 260h5v5h-5zM95 265h25v5h-25zM295 265h5v5h-5zM115 270h5v5h-5zM130 270h15v5h-15zM160 270h5v5h-5zM165 275h25v5h-25zM195 275h5v5h-5zM200 280h5v5h-5zM210 280h5v5h-5zM220 280h5v5h-5zM230 280h5v5h-5zM285 280h5v5h-5zM220 285h5v5h-5zM230 285h15v5h-15zM250 285h10v5h-10zM265 285h5v5h-5zM280 285h5v5h-5zM250 290h5v5h-5zM260 290h15v5h-15z"/>
<path fill="#dfdfdf" d="M130 0h10v5h-10zM185 0h35v5h-35zM330 0h5v5h-5zM130 5h10v5h-10zM185 5h35v5h-35zM320 5h15v5h-15zM100 10h5v5h-5zM130 10h10v5h-10zM190 10h30v5h-30zM315 10h5v5h-5zM330 10h5v5h-5zM100 15h15v5h-15zM135 15h5v5h-5zM185 15h5v5h-5zM195 15h25v5h-25zM330 15h5v5h-5zM100 20h10v5h-10zM330 20h5v5h-5zM70 25h5v5h-5zM45 35h10v5h-10zM45 40h5v5h-5zM45 45h10v5h-10zM330 45h5v5h-5zM45 50h5v5h-5zM45 55h10v5h-10zM330 60h5v5h-5zM50 65h5v5h-5zM330 65h5v5h-5zM330 70h5v5h-5zM45 75h10v5h-10zM330 75h5v5h-5zM45 80h5v5h-5zM330 80h5v5h-5zM45 85h5v5h-5zM330 85h5v5h-5zM45 90h10v5h-10zM330 90h5v5h-5zM330 100h5v5h-5zM50 105h5v5h-5zM45 110h10v5h-10zM50 115h5v5h-5zM50 120h5v5h-5zM50 125h5v5h-5zM50 130h5v5h-5zM50 135h5v5h-5zM50 140h5v5h-5zM50 145h10v5h-10zM50 150h5v5h-5zM50 155h5v5h-5zM50 160h5v5h-5zM50 175h5v5h-5zM50 180h5v5h-5zM50 190h5v5h-5zM55 195h5v5h-5zM50 200h10v5h-10zM325 205h5v5h-5zM55 210h5v5h-5zM50 215h10v5h-10zM325 215h5v5h-5zM55 220h5v5h-5zM325 220h5v5h-5zM55 225h5v5h-5zM50 230h10v5h-10zM320 230h5v5h-5zM55 240h5v5h-5zM315 240h5v5h-5zM55 245h5v5h-5zM55 250h5v5h-5zM55 255h5v5h-5zM305 255h5v5h-5zM55 260h5v5h-5zM70 265h25v5h-25zM100 270h5v5h-5zM110 270h5v5h-5zM120 270h10v5h-10zM135 275h30v5h-30zM290 275h5v5h-5zM165 280h35v5h-35zM205 280h5v5h-5zM185 285h5v5h-5zM195 285h25v5h-25zM225 285h5v5h-5zM245 285h5v5h-5zM285 285h5v5h-5zM220 290h5v5h-5zM230 290h20v5h-20zM255 290h5v5h-5zM275 290h10v5h-10zM260 295h20v5h-20z"/>
<path fill="#e6e6e6" d="M90 0h5v5h-5zM125 0h5v5h-5zM220 0h25v5h-25zM325 0h5v5h-5zM335 0h10v5h-10zM90 5h15v5h-15zM125 5h5v5h-5zM220 5h25v5h-25zM335 5h5v5h-5zM90 10h10v5h-10zM105 10h5v5h-5zM125 10h5v5h-5zM220 10h25v5h-25zM335 10h5v5h-5zM55 15h15v5h-15zM90 15h10v5h-10zM120 15h15v5h-15zM220 15h25v5h-25zM335 15h5v5h-5zM60 20h15v5h-15zM90 20h10v5h-10zM55 25h15v5h-15zM40 30h10v5h-10zM40 35h5v5h-5zM40 45h5v5h-5zM40 50h5v5h-5zM40 55h5v5h-5zM40 60h10v5h-10zM40 65h10v5h-10zM40 70h10v5h-10zM40 75h5v5h-5zM40 95h10v5h-10zM330 95h5v5h-5zM45 100h5v5h-5zM45 105h5v5h-5zM330 105h5v5h-5zM330 110h5v5h-5zM45 115h5v5h-5zM330 115h5v5h-5zM45 120h5v5h-5zM330 120h5v5h-5zM45 125h5v5h-5zM330 125h5v5h-5zM45 130h5v5h-5zM330 130h10v5h-10zM45 135h5v5h-5zM330 135h15v5h-15zM45 140h5v5h-5zM330 140h20v5h-20zM45 145h5v5h-5zM45 150h5v5h-5zM45 155h5v5h-5zM45 160h5v5h-5zM50 165h5v5h-5zM50 170h5v5h-5zM45 175h5v5h-5zM45 185h10v5h-10zM50 195h5v5h-5zM45 205h10v5h-10zM50 210h5v5h-5zM50 220h5v5h-5zM45 225h5v5h-5zM325 225h10v5h-10zM50 235h5v5h-5zM50 240h5v5h-5zM50 245h5v5h-5zM50 250h5v5h-5zM310 250h5v5h-5zM55 265h15v5h-15zM300 265h5v5h-5zM75 270h25v5h-25zM105 270h5v5h-5zM295 270h5v5h-5zM110 275h25v5h-25zM135 280h30v5h-30zM290 280h5v5h-5zM170 285h15v5h-15zM190 285h5v5h-5zM185 290h5v5h-5zM210 290h10v5h-10zM225 290h5v5h-5zM225 295h5v5h-5zM235 295h25v5h-25zM280 295h5v5h-5zM255 300h5v5h-5zM265 300h5v5h-5zM275 300h5v5h-5z"/>
<path fill="#ececec" d="M45 0h10v5h-10zM80 0h10v5h-10zM95 0h5v5h-5zM120 0h5v5h-5zM245 0h20v5h-20zM345 0h25v5h-25zM45 5h15v5h-15zM80 5h10v5h-10zM120 5h5v5h-5zM245 5h20v5h-20zM340 5h30v5h-30zM45 10h20v5h-20zM80 10h10v5h-10zM115 10h10v5h-10zM245 10h20v5h-20zM340 10h30v5h-30zM45 15h10v5h-10zM80 15h10v5h-10zM245 15h20v5h-20zM340 15h30v5h-30zM45 20h15v5h-15zM80 20h10v5h-10zM335 20h35v5h-35zM45 25h10v5h-10zM335 25h35v5h-35zM35 30h5v5h-5zM335 30h35v5h-35zM35 35h5v5h-5zM335 35h35v5h-35zM35 40h10v5h-10zM335 40h35v5h-35zM35 45h5v5h-5zM335 45h35v5h-35zM340 50h30v5h-30zM35 55h5v5h-5zM335 55h5v5h-5zM35 60h5v5h-5zM35 65h5v5h-5zM35 70h5v5h-5zM35 80h10v5h-10zM40 85h5v5h-5zM40 90h5v5h-5zM40 100h5v5h-5zM40 105h5v5h-5zM40 110h5v5h-5zM40 115h5v5h-5zM40 120h5v5h-5zM40 125h5v5h-5zM335 125h5v5h-5zM40 130h5v5h-5zM340 130h5v5h-5zM40 135h5v5h-5zM345 135h5v5h-5zM40 140h5v5h-5zM350 140h5v5h-5zM40 145h5v5h-5zM330 145h30v5h-30zM40 150h5v5h-5zM330 150h35v5h-35zM40 155h5v5h-5zM330 155h35v5h-35zM40 160h5v5h-5zM330 160h35v5h-35zM40 165h10v5h-10zM330 165h35v5h-35zM40 170h10v5h-10zM330 170h35v5h-35zM330 175h35v5h-35zM40 180h10v5h-10zM335 180h5v5h-5zM345 180h20v5h-20zM40 185h5v5h-5zM330 185h5v5h-5zM45 190h5v5h-5zM45 195h5v5h-5zM45 200h5v5h-5zM330 205h5v5h-5zM45 210h5v5h-5zM335 210h5v5h-5zM45 215h5v5h-5zM45 220h5v5h-5zM50 225h5v5h-5zM45 230h5v5h-5zM330 230h10v5h-10zM45 235h5v5h-5zM320 235h10v5h-10zM335 235h10v5h-10zM45 240h5v5h-5zM325 240h10v5h-10zM340 240h5v5h-5zM45 245h5v5h-5zM315 245h10v5h-10zM45 250h5v5h-5zM50 255h5v5h-5zM50 260h5v5h-5zM305 260h5v5h-5zM50 265h5v5h-5zM55 270h10v5h-10zM70 270h5v5h-5zM300 270h5v5h-5zM90 275h20v5h-20zM295 275h10v5h-10zM120 280h5v5h-5zM130 280h5v5h-5zM300 280h10v5h-10zM150 285h20v5h-20zM290 285h5v5h-5zM310 285h5v5h-5zM165 290h20v5h-20zM190 290h20v5h-20zM285 290h5v5h-5zM315 290h5v5h-5zM205 295h20v5h-20zM230 295h5v5h-5zM285 295h5v5h-5zM320 295h5v5h-5zM230 300h25v5h-25zM260 300h5v5h-5zM270 300h5v5h-5zM280 300h5v5h-5zM325 300h5v5h-5zM260 305h20v5h-20zM330 305h5v5h-5z"/>
<path fill="#f2f2f2" d="M35 0h10v5h-10zM55 0h25v5h-25zM110 0h10v5h-10zM265 0h30v5h-30zM35 5h10v5h-10zM60 5h20v5h-20zM110 5h10v5h-10zM265 5h30v5h-30zM35 10h10v5h-10zM65 10h15v5h-15zM265 10h30v5h-30zM35 15h10v5h-10zM70 15h10v5h-10zM265 15h25v5h-25zM35 20h10v5h-10zM75 20h5v5h-5zM25 25h10v5h-10zM40 25h5v5h-5zM30 30h5v5h-5zM30 35h5v5h-5zM30 40h5v5h-5zM30 45h5v5h-5zM30 50h10v5h-10zM335 50h5v5h-5zM30 55h5v5h-5zM340 55h30v5h-30zM30 60h5v5h-5zM335 60h35v5h-35zM30 65h5v5h-5zM335 65h35v5h-35zM30 70h5v5h-5zM335 70h35v5h-35zM30 75h10v5h-10zM335 75h35v5h-35zM335 80h35v5h-35zM35 85h5v5h-5zM335 85h35v5h-35zM35 90h5v5h-5zM335 90h35v5h-35zM30 95h10v5h-10zM335 95h35v5h-35zM35 100h5v5h-5zM340 100h30v5h-30zM35 105h5v5h-5zM340 105h30v5h-30zM35 110h5v5h-5zM335 110h35v5h-35zM35 115h5v5h-5zM340 115h5v5h-5zM35 120h5v5h-5zM30 125h10v5h-10zM35 130h5v5h-5zM35 135h5v5h-5zM35 140h5v5h-5zM30 145h10v5h-10zM30 150h10v5h-10zM35 155h5v5h-5zM35 160h5v5h-5zM30 165h5v5h-5zM40 175h5v5h-5zM330 180h5v5h-5zM340 180h5v5h-5zM335 185h30v5h-30zM40 190h5v5h-5zM330 190h35v5h-35zM40 195h5v5h-5zM330 195h35v5h-35zM40 200h5v5h-5zM330 200h35v5h-35zM40 205h5v5h-5zM335 205h30v5h-30zM40 210h5v5h-5zM330 210h5v5h-5zM340 210h25v5h-25zM40 215h5v5h-5zM330 215h35v5h-35zM40 220h5v5h-5zM330 220h35v5h-35zM40 225h5v5h-5zM335 225h30v5h-30zM40 230h5v5h-5zM325 230h5v5h-5zM340 230h25v5h-25zM35 235h10v5h-10zM330 235h5v5h-5zM345 235h20v5h-20zM35 240h10v5h-10zM320 240h5v5h-5zM335 240h5v5h-5zM345 240h20v5h-20zM30 245h15v5h-15zM325 245h40v5h-40zM25 250h15v5h-15zM320 250h45v5h-45zM20 255h30v5h-30zM310 255h10v5h-10zM325 255h35v5h-35zM15 260h35v5h-35zM310 260h15v5h-15zM340 260h20v5h-20zM10 265h30v5h-30zM45 265h5v5h-5zM305 265h25v5h-25zM345 265h10v5h-10zM45 270h10v5h-10zM65 270h5v5h-5zM310 270h25v5h-25zM350 270h5v5h-5zM75 275h15v5h-15zM305 275h5v5h-5zM325 275h15v5h-15zM70 280h5v5h-5zM80 280h5v5h-5zM90 280h30v5h-30zM125 280h5v5h-5zM295 280h5v5h-5zM310 280h5v5h-5zM330 280h15v5h-15zM85 285h5v5h-5zM105 285h5v5h-5zM120 285h30v5h-30zM295 285h15v5h-15zM315 285h5v5h-5zM335 285h10v5h-10zM120 290h10v5h-10zM155 290h10v5h-10zM290 290h25v5h-25zM320 290h5v5h-5zM340 290h5v5h-5zM175 295h30v5h-30zM300 295h20v5h-20zM325 295h5v5h-5zM185 300h5v5h-5zM200 300h30v5h-30zM285 300h10v5h-10zM310 300h15v5h-15zM330 300h5v5h-5zM220 305h5v5h-5zM230 305h30v5h-30zM280 305h5v5h-5zM315 305h15v5h-15zM230 310h5v5h-5zM250 310h5v5h-5zM260 310h30v5h-30zM320 310h10v5h-10zM245 315h20v5h-20zM270 315h5v5h-5zM325 315h5v5h-5zM245 320h15v5h-15zM245 325h10v5h-10z"/>
<path fill="#f9f9f9" d="M0 0h35v5h-35zM100 0h10v5h-10zM295 0h30v5h-30zM0 5h35v5h-35zM105 5h5v5h-5zM295 5h25v5h-25zM0 10h35v5h-35zM110 10h5v5h-5zM295 10h20v5h-20zM0 15h35v5h-35zM115 15h5v5h-5zM290 15h20v5h-20zM0 20h35v5h-35zM0 25h25v5h-25zM35 25h5v5h-5zM0 30h30v5h-30zM0 35h30v5h-30zM0 40h30v5h-30zM0 45h30v5h-30zM0 50h30v5h-30zM0 55h30v5h-30zM0 60h30v5h-30zM0 65h30v5h-30zM0 70h30v5h-30zM0 75h30v5h-30zM0 80h35v5h-35zM0 85h35v5h-35zM0 90h35v5h-35zM0 95h30v5h-30zM0 100h35v5h-35zM335 100h5v5h-5zM0 105h35v5h-35zM335 105h5v5h-5zM0 110h35v5h-35zM0 115h35v5h-35zM335 115h5v5h-5zM345 115h25v5h-25zM0 120h35v5h-35zM335 120h35v5h-35zM0 125h30v5h-30zM340 125h30v5h-30zM0 130h35v5h-35zM345 130h25v5h-25zM0 135h35v5h-35zM350 135h20v5h-20zM0 140h35v5h-35zM355 140h15v5h-15zM0 145h30v5h-30zM360 145h10v5h-10zM0 150h30v5h-30zM365 150h5v5h-5zM0 155h35v5h-35zM0 160h35v5h-35zM0 165h30v5h-30zM35 165h5v5h-5zM0 170h40v5h-40zM0 175h40v5h-40zM0 180h40v5h-40zM0 185h40v5h-40zM5 190h35v5h-35zM5 195h35v5h-35zM5 200h35v5h-35zM5 205h35v5h-35zM5 210h35v5h-35zM5 215h35v5h-35zM5 220h35v5h-35zM5 225h35v5h-35zM5 230h35v5h-35zM5 235h30v5h-30zM5 240h30v5h-30zM5 245h25v5h-25zM5 250h20v5h-20zM40 250h5v5h-5zM315 250h5v5h-5zM5 255h15v5h-15zM320 255h5v5h-5zM5 260h10v5h-10zM325 260h15v5h-15zM40 265h5v5h-5zM330 265h15v5h-15zM10 270h35v5h-35zM305 270h5v5h-5zM335 270h15v5h-15zM10 275h65v5h-65zM310 275h15v5h-15zM340 275h10v5h-10zM10 280h60v5h-60zM75 280h5v5h-5zM85 280h5v5h-5zM315 280h15v5h-15zM345 280h5v5h-5zM10 285h75v5h-75zM90 285h15v5h-15zM110 285h10v5h-10zM320 285h15v5h-15zM10 290h110v5h-110zM130 290h25v5h-25zM325 290h15v5h-15zM10 295h165v5h-165zM290 295h10v5h-10zM330 295h10v5h-10zM10 300h175v5h-175zM190 300h10v5h-10zM295 300h15v5h-15zM335 300h5v5h-5zM15 305h205v5h-205zM225 305h5v5h-5zM285 305h30v5h-30zM45 310h185v5h-185zM235 310h15v5h-15zM255 310h5v5h-5zM290 310h30v5h-30zM65 315h180v5h-180zM265 315h5v5h-5zM275 315h50v5h-50zM100 320h145v5h-145zM260 320h65v5h-65zM120 325h125v5h-125zM255 325h70v5h-70zM145 330h175v5h-175z"/>
</g></g>
<g clip-path="url(#cb)"><g filter="url(#fg)"><rect x="345" width="340" height="330" fill="#fff"/>
<path fill="#606060" d="M490 135h5v5h-5zM485 165h5v5h-5zM485 170h10v5h-10zM490 175h5v5h-5zM500 175h5v5h-5zM490 185h10v5h-10zM510 185h5v5h-5zM485 190h15v5h-15zM485 195h25v5h-25zM490 200h5v5h-5zM520 200h5v5h-5z"/>
<path fill="#666666" d="M490 90h5v5h-5zM500 90h5v5h-5zM495 95h5v5h-5zM485 100h5v5h-5zM485 105h5v5h-5zM495 105h5v5h-5zM485 110h10v5h-10zM485 115h15v5h-15zM505 115h5v5h-5zM485 120h20v5h-20zM490 125h5v5h-5zM500 125h5v5h-5zM485 130h20v5h-20zM485 135h5v5h-5zM495 135h15v5h-15zM520 135h5v5h-5zM480 140h10v5h-10zM495 140h10v5h-10zM480 145h35v5h-35zM485 150h15v5h-15zM505 150h10v5h-10zM485 155h20v5h-20zM480 160h40v5h-40zM525 160h5v5h-5zM535 160h5v5h-5zM480 165h5v5h-5zM490 165h35v5h-35zM480 170h5v5h-5zM495 170h30v5h-30zM480 175h10v5h-10zM495 175h5v5h-5zM505 175h10v5h-10zM520 175h15v5h-15zM485 180h45v5h-45zM480 185h10v5h-10zM500 185h10v5h-10zM515 185h15v5h-15zM535 185h5v5h-5zM555 185h5v5h-5zM480 190h5v5h-5zM500 190h35v5h-35zM545 190h5v5h-5zM560 190h5v5h-5zM510 195h30v5h-30zM555 195h5v5h-5zM485 200h5v5h-5zM500 200h20v5h-20zM525 200h30v5h-30z"/>
<path fill="#6c6c6c" d="M490 30h10v5h-10zM485 35h5v5h-5zM495 35h5v5h-5zM505 35h5v5h-5zM480 45h25v5h-25zM485 50h15v5h-15zM485 55h10v5h-10zM480 60h15v5h-15zM500 60h10v5h-10zM485 65h20v5h-20zM480 70h35v5h-35zM520 70h10v5h-10zM480 75h30v5h-30zM485 80h25v5h-25zM520 80h5v5h-5zM535 80h5v5h-5zM480 85h20v5h-20zM520 85h5v5h-5zM535 85h5v5h-5zM545 85h5v5h-5zM485 90h5v5h-5zM495 90h5v5h-5zM505 90h5v5h-5zM515 90h5v5h-5zM525 90h5v5h-5zM475 95h20v5h-20zM500 95h30v5h-30zM540 95h5v5h-5zM490 100h10v5h-10zM505 100h15v5h-15zM530 100h10v5h-10zM480 105h5v5h-5zM490 105h5v5h-5zM500 105h25v5h-25zM530 105h5v5h-5zM480 110h5v5h-5zM495 110h50v5h-50zM550 110h5v5h-5zM480 115h5v5h-5zM500 115h5v5h-5zM515 115h5v5h-5zM525 115h15v5h-15zM480 120h5v5h-5zM505 120h5v5h-5zM515 120h25v5h-25zM550 120h5v5h-5zM480 125h10v5h-10zM495 125h5v5h-5zM505 125h25v5h-25zM535 125h5v5h-5zM480 130h5v5h-5zM505 130h15v5h-15zM525 130h15v5h-15zM545 130h5v5h-5zM480 135h5v5h-5zM510 135h10v5h-10zM525 135h25v5h-25zM490 140h5v5h-5zM505 140h45v5h-45zM515 145h5v5h-5zM525 145h25v5h-25zM555 145h10v5h-10zM480 150h5v5h-5zM500 150h5v5h-5zM515 150h45v5h-45zM565 150h5v5h-5zM475 155h10v5h-10zM505 155h60v5h-60zM520 160h5v5h-5zM530 160h5v5h-5zM540 160h10v5h-10zM555 160h10v5h-10zM525 165h30v5h-30zM560 165h10v5h-10zM525 170h45v5h-45zM580 170h5v5h-5zM475 175h5v5h-5zM515 175h5v5h-5zM535 175h25v5h-25zM565 175h10v5h-10zM480 180h5v5h-5zM530 180h35v5h-35zM580 180h5v5h-5zM530 185h5v5h-5zM540 185h15v5h-15zM560 185h20v5h-20zM535 190h10v5h-10zM550 190h10v5h-10zM570 190h5v5h-5zM480 195h5v5h-5zM540 195h15v5h-15zM560 195h20v5h-20zM595 195h5v5h-5zM475 200h10v5h-10zM495 200h5v5h-5zM555 200h25v5h-25zM585 200h15v5h-15zM475 205h5v5h-5zM485 205h5v5h-5zM505 205h5v5h-5zM515 205h5v5h-5zM525 205h25v5h-25zM555 205h25v5h-25zM585 205h5v5h-5zM575 210h5v5h-5z"/>
<path fill="#737373" d="M480 30h10v5h-10zM500 30h10v5h-10zM515 30h10v5h-10zM530 30h5v5h-5zM475 35h10v5h-10zM490 35h5v5h-5zM500 35h5v5h-5zM510 35h5v5h-5zM540 35h10v5h-10zM480 40h45v5h-45zM530 40h5v5h-5zM540 40h5v5h-5zM505 45h25v5h-25zM535 45h5v5h-5zM480 50h5v5h-5zM500 50h40v5h-40zM545 50h5v5h-5zM480 55h5v5h-5zM495 55h35v5h-35zM535 55h20v5h-20zM495 60h5v5h-5zM510 60h20v5h-20zM535 60h15v5h-15zM560 60h5v5h-5zM480 65h5v5h-5zM505 65h25v5h-25zM535 65h5v5h-5zM545 65h15v5h-15zM475 70h5v5h-5zM515 70h5v5h-5zM540 70h10v5h-10zM475 75h5v5h-5zM510 75h50v5h-50zM475 80h10v5h-10zM510 80h10v5h-10zM525 80h10v5h-10zM540 80h10v5h-10zM475 85h5v5h-5zM500 85h20v5h-20zM525 85h10v5h-10zM540 85h5v5h-5zM550 85h5v5h-5zM560 85h15v5h-15zM480 90h5v5h-5zM510 90h5v5h-5zM520 90h5v5h-5zM530 90h10v5h-10zM545 90h5v5h-5zM555 90h15v5h-15zM580 90h5v5h-5zM530 95h10v5h-10zM545 95h15v5h-15zM570 95h5v5h-5zM585 95h5v5h-5zM475 100h10v5h-10zM500 100h5v5h-5zM520 100h10v5h-10zM540 100h25v5h-25zM580 100h15v5h-15zM525 105h5v5h-5zM535 105h40v5h-40zM580 105h5v5h-5zM475 110h5v5h-5zM545 110h5v5h-5zM555 110h10v5h-10zM570 110h5v5h-5zM475 115h5v5h-5zM510 115h5v5h-5zM520 115h5v5h-5zM540 115h20v5h-20zM565 115h5v5h-5zM470 120h10v5h-10zM510 120h5v5h-5zM540 120h10v5h-10zM555 120h25v5h-25zM585 120h10v5h-10zM475 125h5v5h-5zM530 125h5v5h-5zM540 125h50v5h-50zM595 125h5v5h-5zM475 130h5v5h-5zM520 130h5v5h-5zM540 130h5v5h-5zM550 130h15v5h-15zM570 130h20v5h-20zM615 130h5v5h-5zM475 135h5v5h-5zM550 135h20v5h-20zM575 135h10v5h-10zM590 135h5v5h-5zM470 140h10v5h-10zM550 140h45v5h-45zM600 140h10v5h-10zM475 145h5v5h-5zM520 145h5v5h-5zM550 145h5v5h-5zM565 145h10v5h-10zM580 145h15v5h-15zM605 145h5v5h-5zM475 150h5v5h-5zM560 150h5v5h-5zM570 150h20v5h-20zM600 150h5v5h-5zM615 150h5v5h-5zM565 155h5v5h-5zM575 155h15v5h-15zM595 155h10v5h-10zM615 155h5v5h-5zM475 160h5v5h-5zM550 160h5v5h-5zM565 160h35v5h-35zM605 160h10v5h-10zM470 165h10v5h-10zM555 165h5v5h-5zM570 165h55v5h-55zM475 170h5v5h-5zM570 170h10v5h-10zM585 170h25v5h-25zM560 175h5v5h-5zM575 175h40v5h-40zM620 175h5v5h-5zM475 180h5v5h-5zM565 180h15v5h-15zM585 180h30v5h-30zM470 185h10v5h-10zM580 185h35v5h-35zM620 185h5v5h-5zM475 190h5v5h-5zM565 190h5v5h-5zM575 190h35v5h-35zM620 190h5v5h-5zM475 195h5v5h-5zM580 195h15v5h-15zM600 195h20v5h-20zM470 200h5v5h-5zM580 200h5v5h-5zM600 200h15v5h-15zM620 200h5v5h-5zM470 205h5v5h-5zM480 205h5v5h-5zM490 205h15v5h-15zM510 205h5v5h-5zM520 205h5v5h-5zM550 205h5v5h-5zM580 205h5v5h-5zM590 205h30v5h-30zM490 210h5v5h-5zM515 210h5v5h-5zM530 210h25v5h-25zM560 210h15v5h-15zM580 210h5v5h-5zM590 210h35v5h-35zM600 215h5v5h-5zM610 215h10v5h-10z"/>
<path fill="#797979" d="M480 25h10v5h-10zM495 25h5v5h-5zM475 30h5v5h-5zM510 30h5v5h-5zM525 30h5v5h-5zM535 30h30v5h-30zM515 35h25v5h-25zM550 35h25v5h-25zM470 40h10v5h-10zM525 40h5v5h-5zM535 40h5v5h-5zM545 40h20v5h-20zM570 40h5v5h-5zM580 40h5v5h-5zM475 45h5v5h-5zM530 45h5v5h-5zM540 45h40v5h-40zM590 45h5v5h-5zM600 45h5v5h-5zM470 50h10v5h-10zM540 50h5v5h-5zM550 50h25v5h-25zM580 50h5v5h-5zM590 50h5v5h-5zM470 55h10v5h-10zM530 55h5v5h-5zM555 55h20v5h-20zM580 55h5v5h-5zM600 55h5v5h-5zM475 60h5v5h-5zM530 60h5v5h-5zM550 60h10v5h-10zM565 60h25v5h-25zM600 60h5v5h-5zM470 65h10v5h-10zM530 65h5v5h-5zM540 65h5v5h-5zM560 65h25v5h-25zM590 65h20v5h-20zM470 70h5v5h-5zM530 70h10v5h-10zM550 70h40v5h-40zM595 70h5v5h-5zM470 75h5v5h-5zM560 75h25v5h-25zM595 75h5v5h-5zM605 75h5v5h-5zM470 80h5v5h-5zM550 80h35v5h-35zM590 80h20v5h-20zM470 85h5v5h-5zM555 85h5v5h-5zM575 85h20v5h-20zM605 85h5v5h-5zM475 90h5v5h-5zM540 90h5v5h-5zM550 90h5v5h-5zM570 90h10v5h-10zM585 90h25v5h-25zM615 90h5v5h-5zM470 95h5v5h-5zM560 95h10v5h-10zM575 95h10v5h-10zM595 95h5v5h-5zM605 95h10v5h-10zM565 100h15v5h-15zM595 100h10v5h-10zM470 105h10v5h-10zM575 105h5v5h-5zM585 105h30v5h-30zM620 105h5v5h-5zM470 110h5v5h-5zM565 110h5v5h-5zM575 110h40v5h-40zM470 115h5v5h-5zM560 115h5v5h-5zM570 115h55v5h-55zM580 120h5v5h-5zM595 120h20v5h-20zM620 120h5v5h-5zM470 125h5v5h-5zM590 125h5v5h-5zM605 125h15v5h-15zM625 125h5v5h-5zM470 130h5v5h-5zM565 130h5v5h-5zM590 130h25v5h-25zM620 130h5v5h-5zM465 135h10v5h-10zM570 135h5v5h-5zM585 135h5v5h-5zM595 135h15v5h-15zM620 135h10v5h-10zM595 140h5v5h-5zM615 140h10v5h-10zM470 145h5v5h-5zM575 145h5v5h-5zM595 145h10v5h-10zM610 145h20v5h-20zM470 150h5v5h-5zM590 150h10v5h-10zM605 150h10v5h-10zM625 150h5v5h-5zM465 155h10v5h-10zM570 155h5v5h-5zM590 155h5v5h-5zM605 155h10v5h-10zM620 155h10v5h-10zM470 160h5v5h-5zM600 160h5v5h-5zM615 160h15v5h-15zM465 165h5v5h-5zM625 165h5v5h-5zM465 170h10v5h-10zM610 170h20v5h-20zM465 175h10v5h-10zM615 175h5v5h-5zM625 175h5v5h-5zM465 180h10v5h-10zM615 180h15v5h-15zM465 185h5v5h-5zM615 185h5v5h-5zM465 190h10v5h-10zM610 190h10v5h-10zM625 190h5v5h-5zM470 195h5v5h-5zM620 195h10v5h-10zM615 200h5v5h-5zM625 200h10v5h-10zM465 205h5v5h-5zM620 205h10v5h-10zM470 210h20v5h-20zM495 210h20v5h-20zM520 210h10v5h-10zM555 210h5v5h-5zM585 210h5v5h-5zM625 210h5v5h-5zM575 215h25v5h-25zM605 215h5v5h-5zM620 215h10v5h-10zM615 220h5v5h-5z"/>
<path fill="#808080" d="M475 25h5v5h-5zM490 25h5v5h-5zM500 25h20v5h-20zM470 30h5v5h-5zM565 30h35v5h-35zM470 35h5v5h-5zM575 35h40v5h-40zM620 35h5v5h-5zM565 40h5v5h-5zM575 40h5v5h-5zM585 40h20v5h-20zM615 40h15v5h-15zM465 45h10v5h-10zM580 45h10v5h-10zM595 45h5v5h-5zM605 45h20v5h-20zM575 50h5v5h-5zM585 50h5v5h-5zM595 50h15v5h-15zM615 50h15v5h-15zM575 55h5v5h-5zM585 55h15v5h-15zM605 55h25v5h-25zM465 60h10v5h-10zM590 60h10v5h-10zM605 60h10v5h-10zM620 60h5v5h-5zM585 65h5v5h-5zM610 65h20v5h-20zM465 70h5v5h-5zM590 70h5v5h-5zM600 70h35v5h-35zM465 75h5v5h-5zM585 75h10v5h-10zM600 75h5v5h-5zM610 75h25v5h-25zM585 80h5v5h-5zM610 80h25v5h-25zM595 85h10v5h-10zM610 85h25v5h-25zM465 90h10v5h-10zM610 90h5v5h-5zM620 90h5v5h-5zM590 95h5v5h-5zM600 95h5v5h-5zM615 95h20v5h-20zM465 100h10v5h-10zM605 100h30v5h-30zM615 105h5v5h-5zM625 105h10v5h-10zM465 110h5v5h-5zM615 110h20v5h-20zM625 115h10v5h-10zM465 120h5v5h-5zM615 120h5v5h-5zM465 125h5v5h-5zM600 125h5v5h-5zM620 125h5v5h-5zM465 130h5v5h-5zM625 130h10v5h-10zM610 135h10v5h-10zM630 135h5v5h-5zM465 140h5v5h-5zM610 140h5v5h-5zM625 140h5v5h-5zM465 145h5v5h-5zM630 145h5v5h-5zM620 150h5v5h-5zM630 150h5v5h-5zM630 155h5v5h-5zM465 160h5v5h-5zM630 160h5v5h-5zM630 165h5v5h-5zM630 170h5v5h-5zM630 175h5v5h-5zM630 180h5v5h-5zM625 185h10v5h-10zM630 190h10v5h-10zM465 195h5v5h-5zM630 195h5v5h-5zM465 200h5v5h-5zM460 205h5v5h-5zM630 205h5v5h-5zM465 210h5v5h-5zM630 210h5v5h-5zM465 215h5v5h-5zM480 215h5v5h-5zM505 215h5v5h-5zM515 215h60v5h-60zM630 215h5v5h-5zM575 220h5v5h-5zM590 220h5v5h-5zM600 220h15v5h-15zM620 220h10v5h-10z"/>
<path fill="#868686" d="M470 25h5v5h-5zM520 25h40v5h-40zM570 25h5v5h-5zM465 30h5v5h-5zM600 30h25v5h-25zM465 35h5v5h-5zM615 35h5v5h-5zM625 35h10v5h-10zM465 40h5v5h-5zM605 40h10v5h-10zM630 40h10v5h-10zM625 45h15v5h-15zM460 50h5v5h-5zM610 50h5v5h-5zM630 50h10v5h-10zM460 55h10v5h-10zM630 55h5v5h-5zM615 60h5v5h-5zM625 60h10v5h-10zM460 65h10v5h-10zM630 65h10v5h-10zM460 70h5v5h-5zM460 75h5v5h-5zM465 80h5v5h-5zM465 85h5v5h-5zM635 85h5v5h-5zM625 90h10v5h-10zM460 95h10v5h-10zM635 95h5v5h-5zM460 100h5v5h-5zM460 105h10v5h-10zM635 105h5v5h-5zM635 110h5v5h-5zM460 115h10v5h-10zM635 115h5v5h-5zM460 120h5v5h-5zM625 120h15v5h-15zM630 125h10v5h-10zM460 130h5v5h-5zM635 130h5v5h-5zM455 135h10v5h-10zM635 135h5v5h-5zM455 140h10v5h-10zM630 140h5v5h-5zM460 145h5v5h-5zM635 145h5v5h-5zM460 150h10v5h-10zM635 150h5v5h-5zM460 155h5v5h-5zM635 155h5v5h-5zM460 160h5v5h-5zM635 160h5v5h-5zM460 165h5v5h-5zM635 165h5v5h-5zM460 170h5v5h-5zM635 170h10v5h-10zM455 175h10v5h-10zM635 175h5v5h-5zM455 180h10v5h-10zM635 180h5v5h-5zM460 185h5v5h-5zM635 185h10v5h-10zM455 190h10v5h-10zM460 195h5v5h-5zM635 195h5v5h-5zM460 200h5v5h-5zM635 200h5v5h-5zM635 205h5v5h-5zM460 210h5v5h-5zM635 210h5v5h-5zM455 215h10v5h-10zM470 215h5v5h-5zM485 215h20v5h-20zM510 215h5v5h-5zM635 215h5v5h-5zM495 220h10v5h-10zM515 220h10v5h-10zM530 220h45v5h-45zM580 220h10v5h-10zM595 220h5v5h-5zM630 220h5v5h-5zM590 225h5v5h-5zM600 225h5v5h-5zM620 225h10v5h-10z"/>
<path fill="#8c8c8c" d="M480 20h15v5h-15zM500 20h5v5h-5zM465 25h5v5h-5zM560 25h5v5h-5zM580 25h5v5h-5zM590 25h5v5h-5zM455 30h10v5h-10zM625 30h10v5h-10zM640 30h5v5h-5zM460 35h5v5h-5zM635 35h5v5h-5zM460 40h5v5h-5zM640 40h5v5h-5zM460 45h5v5h-5zM465 50h5v5h-5zM635 55h5v5h-5zM455 60h10v5h-10zM635 60h10v5h-10zM455 65h5v5h-5zM455 70h5v5h-5zM635 70h10v5h-10zM635 75h5v5h-5zM460 80h5v5h-5zM635 80h10v5h-10zM455 85h10v5h-10zM640 85h5v5h-5zM460 90h5v5h-5zM635 90h10v5h-10zM640 95h5v5h-5zM455 100h5v5h-5zM635 100h10v5h-10zM640 105h5v5h-5zM455 110h10v5h-10zM640 110h5v5h-5zM455 115h5v5h-5zM640 120h5v5h-5zM455 125h10v5h-10zM640 125h5v5h-5zM455 130h5v5h-5zM640 130h5v5h-5zM640 135h5v5h-5zM635 140h5v5h-5zM455 145h5v5h-5zM640 145h5v5h-5zM455 150h5v5h-5zM640 150h5v5h-5zM455 155h5v5h-5zM640 155h5v5h-5zM640 160h5v5h-5zM455 165h5v5h-5zM640 165h5v5h-5zM455 170h5v5h-5zM640 175h5v5h-5zM640 180h5v5h-5zM455 185h5v5h-5zM640 190h5v5h-5zM455 195h5v5h-5zM640 195h5v5h-5zM455 200h5v5h-5zM640 200h5v5h-5zM450 205h10v5h-10zM640 205h5v5h-5zM455 210h5v5h-5zM640 210h5v5h-5zM475 215h5v5h-5zM640 215h5v5h-5zM460 220h15v5h-15zM480 220h15v5h-15zM505 220h10v5h-10zM525 220h5v5h-5zM635 220h5v5h-5zM520 225h70v5h-70zM595 225h5v5h-5zM605 225h15v5h-15zM630 225h5v5h-5zM610 230h10v5h-10z"/>
<path fill="#939393" d="M475 20h5v5h-5zM495 20h5v5h-5zM505 20h10v5h-10zM525 20h10v5h-10zM460 25h5v5h-5zM565 25h5v5h-5zM575 25h5v5h-5zM585 25h5v5h-5zM595 25h20v5h-20zM635 30h5v5h-5zM455 35h5v5h-5zM640 35h5v5h-5zM450 40h10v5h-10zM645 40h5v5h-5zM455 45h5v5h-5zM640 45h5v5h-5zM455 50h5v5h-5zM640 50h5v5h-5zM640 55h10v5h-10zM450 60h5v5h-5zM645 60h5v5h-5zM640 65h10v5h-10zM645 70h5v5h-5zM455 75h5v5h-5zM640 75h10v5h-10zM455 80h5v5h-5zM450 85h5v5h-5zM645 85h5v5h-5zM455 90h5v5h-5zM645 90h5v5h-5zM450 95h10v5h-10zM645 95h5v5h-5zM450 100h5v5h-5zM455 105h5v5h-5zM645 105h5v5h-5zM445 110h5v5h-5zM640 115h10v5h-10zM450 120h10v5h-10zM645 125h5v5h-5zM645 130h5v5h-5zM450 135h5v5h-5zM645 135h5v5h-5zM450 140h5v5h-5zM450 145h5v5h-5zM645 145h5v5h-5zM450 150h5v5h-5zM645 150h5v5h-5zM450 155h5v5h-5zM645 155h5v5h-5zM450 160h10v5h-10zM450 165h5v5h-5zM450 170h5v5h-5zM645 170h5v5h-5zM450 175h5v5h-5zM645 175h5v5h-5zM450 180h5v5h-5zM645 180h5v5h-5zM450 185h5v5h-5zM645 185h5v5h-5zM445 190h10v5h-10zM645 190h5v5h-5zM450 195h5v5h-5zM645 195h5v5h-5zM450 200h5v5h-5zM645 200h5v5h-5zM645 205h5v5h-5zM450 210h5v5h-5zM645 210h5v5h-5zM450 215h5v5h-5zM645 215h5v5h-5zM450 220h10v5h-10zM475 220h5v5h-5zM645 220h5v5h-5zM455 225h5v5h-5zM470 225h5v5h-5zM485 225h35v5h-35zM540 230h10v5h-10zM560 230h50v5h-50zM620 230h10v5h-10zM570 235h5v5h-5zM595 235h5v5h-5zM610 235h15v5h-15z"/>
<path fill="#999999" d="M515 20h10v5h-10zM535 20h15v5h-15zM555 20h5v5h-5zM615 25h35v5h-35zM450 30h5v5h-5zM645 30h10v5h-10zM450 35h5v5h-5zM645 35h5v5h-5zM445 45h10v5h-10zM645 45h5v5h-5zM445 50h10v5h-10zM645 50h10v5h-10zM450 55h10v5h-10zM650 55h5v5h-5zM445 65h10v5h-10zM650 65h5v5h-5zM445 70h10v5h-10zM445 75h10v5h-10zM450 80h5v5h-5zM645 80h5v5h-5zM445 90h10v5h-10zM445 95h5v5h-5zM650 95h5v5h-5zM445 100h5v5h-5zM645 100h10v5h-10zM445 105h10v5h-10zM450 110h5v5h-5zM645 110h5v5h-5zM445 115h10v5h-10zM445 120h5v5h-5zM645 120h5v5h-5zM445 125h10v5h-10zM445 130h10v5h-10zM445 135h5v5h-5zM445 140h5v5h-5zM640 140h10v5h-10zM650 145h5v5h-5zM445 150h5v5h-5zM650 150h5v5h-5zM445 155h5v5h-5zM650 155h5v5h-5zM445 160h5v5h-5zM645 160h5v5h-5zM445 165h5v5h-5zM645 165h5v5h-5zM445 170h5v5h-5zM445 175h5v5h-5zM445 180h5v5h-5zM445 185h5v5h-5zM650 185h5v5h-5zM445 195h5v5h-5zM445 200h5v5h-5zM445 205h5v5h-5zM650 205h5v5h-5zM445 210h5v5h-5zM445 215h5v5h-5zM445 220h5v5h-5zM640 220h5v5h-5zM445 225h10v5h-10zM465 225h5v5h-5zM475 225h10v5h-10zM635 225h5v5h-5zM475 230h10v5h-10zM490 230h50v5h-50zM550 230h10v5h-10zM630 230h5v5h-5zM555 235h5v5h-5zM565 235h5v5h-5zM575 235h20v5h-20zM605 235h5v5h-5zM625 235h5v5h-5zM590 240h5v5h-5zM600 240h5v5h-5z"/>
<path fill="#9f9f9f" d="M470 20h5v5h-5zM550 20h5v5h-5zM570 20h5v5h-5zM585 20h5v5h-5zM450 25h10v5h-10zM650 25h5v5h-5zM445 30h5v5h-5zM655 30h5v5h-5zM445 35h5v5h-5zM650 35h5v5h-5zM440 40h10v5h-10zM650 40h5v5h-5zM440 45h5v5h-5zM650 45h5v5h-5zM440 50h5v5h-5zM440 55h10v5h-10zM440 60h10v5h-10zM650 60h5v5h-5zM650 70h5v5h-5zM440 75h5v5h-5zM650 75h5v5h-5zM440 80h10v5h-10zM650 80h5v5h-5zM440 85h10v5h-10zM650 85h5v5h-5zM440 90h5v5h-5zM650 90h5v5h-5zM440 100h5v5h-5zM650 105h5v5h-5zM440 110h5v5h-5zM650 110h5v5h-5zM650 115h5v5h-5zM440 120h5v5h-5zM650 120h5v5h-5zM440 125h5v5h-5zM650 125h5v5h-5zM440 130h5v5h-5zM650 130h5v5h-5zM440 135h5v5h-5zM650 135h5v5h-5zM440 140h5v5h-5zM650 140h5v5h-5zM445 145h5v5h-5zM440 150h5v5h-5zM440 155h5v5h-5zM440 160h5v5h-5zM440 165h5v5h-5zM650 165h5v5h-5zM440 170h5v5h-5zM650 170h5v5h-5zM440 175h5v5h-5zM650 175h5v5h-5zM440 180h5v5h-5zM440 190h5v5h-5zM650 190h5v5h-5zM440 195h5v5h-5zM650 195h5v5h-5zM440 200h5v5h-5zM650 200h5v5h-5zM440 205h5v5h-5zM650 210h5v5h-5zM440 215h5v5h-5zM650 215h5v5h-5zM440 220h5v5h-5zM650 220h5v5h-5zM440 225h5v5h-5zM460 225h5v5h-5zM640 225h10v5h-10zM440 230h5v5h-5zM455 230h5v5h-5zM465 230h10v5h-10zM485 230h5v5h-5zM635 230h5v5h-5zM490 235h10v5h-10zM515 235h5v5h-5zM525 235h30v5h-30zM560 235h5v5h-5zM600 235h5v5h-5zM630 235h5v5h-5zM585 240h5v5h-5zM595 240h5v5h-5zM605 240h25v5h-25z"/>
<path fill="#a6a6a6" d="M465 20h5v5h-5zM560 20h10v5h-10zM575 20h10v5h-10zM590 20h10v5h-10zM620 20h5v5h-5zM445 25h5v5h-5zM655 25h5v5h-5zM435 30h10v5h-10zM440 35h5v5h-5zM655 35h5v5h-5zM655 40h5v5h-5zM435 45h5v5h-5zM655 45h5v5h-5zM655 55h5v5h-5zM435 60h5v5h-5zM655 60h5v5h-5zM440 65h5v5h-5zM655 65h5v5h-5zM435 70h10v5h-10zM655 70h5v5h-5zM435 75h5v5h-5zM655 75h5v5h-5zM435 80h5v5h-5zM655 85h5v5h-5zM440 95h5v5h-5zM655 95h5v5h-5zM655 100h5v5h-5zM435 105h10v5h-10zM655 105h5v5h-5zM435 110h5v5h-5zM655 110h5v5h-5zM435 115h10v5h-10zM655 115h5v5h-5zM435 120h5v5h-5zM435 125h5v5h-5zM435 130h5v5h-5zM655 130h5v5h-5zM655 135h5v5h-5zM435 140h5v5h-5zM655 140h5v5h-5zM435 145h10v5h-10zM655 145h5v5h-5zM435 150h5v5h-5zM655 150h5v5h-5zM435 155h5v5h-5zM655 155h5v5h-5zM650 160h10v5h-10zM435 165h5v5h-5zM430 170h10v5h-10zM435 175h5v5h-5zM430 180h10v5h-10zM650 180h5v5h-5zM435 185h10v5h-10zM435 190h5v5h-5zM435 195h5v5h-5zM430 200h10v5h-10zM435 205h5v5h-5zM435 210h10v5h-10zM435 215h5v5h-5zM435 220h5v5h-5zM435 225h5v5h-5zM435 230h5v5h-5zM445 230h10v5h-10zM460 230h5v5h-5zM640 230h5v5h-5zM465 235h10v5h-10zM480 235h10v5h-10zM500 235h15v5h-15zM520 235h5v5h-5zM505 240h5v5h-5zM515 240h5v5h-5zM525 240h60v5h-60zM630 240h5v5h-5zM570 245h10v5h-10zM590 245h35v5h-35zM615 250h10v5h-10z"/>
<path fill="#acacac" d="M490 15h5v5h-5zM500 15h5v5h-5zM460 20h5v5h-5zM600 20h20v5h-20zM625 20h5v5h-5zM635 20h5v5h-5zM435 25h10v5h-10zM430 30h5v5h-5zM430 35h10v5h-10zM660 35h5v5h-5zM430 40h10v5h-10zM430 45h5v5h-5zM430 50h10v5h-10zM655 50h5v5h-5zM430 55h10v5h-10zM435 65h5v5h-5zM430 70h5v5h-5zM655 80h5v5h-5zM435 85h5v5h-5zM430 90h10v5h-10zM655 90h5v5h-5zM435 95h5v5h-5zM430 100h10v5h-10zM430 105h5v5h-5zM430 110h5v5h-5zM430 120h5v5h-5zM655 120h5v5h-5zM430 125h5v5h-5zM655 125h5v5h-5zM430 130h5v5h-5zM435 135h5v5h-5zM430 140h5v5h-5zM430 145h5v5h-5zM430 155h5v5h-5zM430 160h10v5h-10zM655 165h5v5h-5zM655 170h5v5h-5zM430 175h5v5h-5zM655 175h5v5h-5zM655 180h5v5h-5zM430 185h5v5h-5zM655 185h5v5h-5zM655 190h5v5h-5zM430 195h5v5h-5zM655 195h5v5h-5zM655 200h5v5h-5zM430 205h5v5h-5zM655 205h5v5h-5zM430 210h5v5h-5zM655 210h5v5h-5zM430 215h5v5h-5zM655 215h5v5h-5zM430 220h5v5h-5zM430 225h5v5h-5zM430 230h5v5h-5zM645 230h5v5h-5zM430 235h35v5h-35zM475 235h5v5h-5zM635 235h5v5h-5zM460 240h10v5h-10zM475 240h15v5h-15zM495 240h5v5h-5zM510 240h5v5h-5zM520 240h5v5h-5zM520 245h5v5h-5zM535 245h35v5h-35zM580 245h10v5h-10zM625 245h10v5h-10zM540 250h5v5h-5zM580 250h35v5h-35z"/>
<path fill="#b2b2b2" d="M480 15h10v5h-10zM495 15h5v5h-5zM505 15h5v5h-5zM515 15h5v5h-5zM525 15h5v5h-5zM455 20h5v5h-5zM630 20h5v5h-5zM640 20h25v5h-25zM660 25h5v5h-5zM660 30h5v5h-5zM425 35h5v5h-5zM425 40h5v5h-5zM660 40h5v5h-5zM425 45h5v5h-5zM660 45h5v5h-5zM425 50h5v5h-5zM660 50h5v5h-5zM660 55h5v5h-5zM430 60h5v5h-5zM660 60h5v5h-5zM425 65h10v5h-10zM660 65h5v5h-5zM660 70h5v5h-5zM425 75h10v5h-10zM660 75h5v5h-5zM425 80h10v5h-10zM660 80h5v5h-5zM425 85h10v5h-10zM660 85h5v5h-5zM425 90h5v5h-5zM660 90h5v5h-5zM425 95h10v5h-10zM660 95h5v5h-5zM425 100h5v5h-5zM660 100h5v5h-5zM425 105h5v5h-5zM660 105h5v5h-5zM660 110h5v5h-5zM425 115h10v5h-10zM660 115h5v5h-5zM425 120h5v5h-5zM425 125h5v5h-5zM425 130h5v5h-5zM660 130h5v5h-5zM425 135h10v5h-10zM660 135h5v5h-5zM425 140h5v5h-5zM660 140h5v5h-5zM425 145h5v5h-5zM660 145h5v5h-5zM425 150h10v5h-10zM660 150h5v5h-5zM425 155h5v5h-5zM425 160h5v5h-5zM425 165h10v5h-10zM425 175h5v5h-5zM425 180h5v5h-5zM425 185h5v5h-5zM425 190h10v5h-10zM425 195h5v5h-5zM425 200h5v5h-5zM425 210h5v5h-5zM420 215h10v5h-10zM425 220h5v5h-5zM655 220h5v5h-5zM425 225h5v5h-5zM650 225h5v5h-5zM425 230h5v5h-5zM425 235h5v5h-5zM640 235h5v5h-5zM430 240h30v5h-30zM470 240h5v5h-5zM490 240h5v5h-5zM500 240h5v5h-5zM635 240h5v5h-5zM475 245h10v5h-10zM490 245h30v5h-30zM525 245h10v5h-10zM545 250h35v5h-35zM625 250h5v5h-5zM565 255h5v5h-5zM575 255h15v5h-15zM595 255h5v5h-5zM605 255h20v5h-20z"/>
<path fill="#b9b9b9" d="M475 15h5v5h-5zM510 15h5v5h-5zM520 15h5v5h-5zM530 15h5v5h-5zM430 25h5v5h-5zM665 25h5v5h-5zM425 30h5v5h-5zM420 35h5v5h-5zM665 35h5v5h-5zM420 40h5v5h-5zM420 45h5v5h-5zM420 50h5v5h-5zM420 55h10v5h-10zM665 55h5v5h-5zM420 60h10v5h-10zM425 70h5v5h-5zM420 75h5v5h-5zM420 85h5v5h-5zM420 90h5v5h-5zM420 95h5v5h-5zM420 100h5v5h-5zM420 105h5v5h-5zM425 110h5v5h-5zM660 120h5v5h-5zM660 125h5v5h-5zM420 130h5v5h-5zM420 135h5v5h-5zM420 145h5v5h-5zM420 150h5v5h-5zM420 155h5v5h-5zM660 155h5v5h-5zM420 160h5v5h-5zM660 160h5v5h-5zM420 165h5v5h-5zM660 165h5v5h-5zM425 170h5v5h-5zM660 170h5v5h-5zM660 175h5v5h-5zM420 180h5v5h-5zM660 180h5v5h-5zM420 185h5v5h-5zM660 185h5v5h-5zM660 190h5v5h-5zM420 195h5v5h-5zM420 200h5v5h-5zM660 200h5v5h-5zM420 205h10v5h-10zM660 205h5v5h-5zM420 210h5v5h-5zM660 210h5v5h-5zM420 225h5v5h-5zM420 230h5v5h-5zM650 230h5v5h-5zM645 235h5v5h-5zM425 240h5v5h-5zM640 240h5v5h-5zM450 245h25v5h-25zM485 245h5v5h-5zM635 245h5v5h-5zM495 250h15v5h-15zM515 250h25v5h-25zM630 250h5v5h-5zM540 255h5v5h-5zM550 255h15v5h-15zM570 255h5v5h-5zM590 255h5v5h-5zM600 255h5v5h-5zM625 255h5v5h-5zM590 260h5v5h-5zM600 260h5v5h-5zM615 260h10v5h-10z"/>
<path fill="#bfbfbf" d="M535 15h25v5h-25zM445 20h10v5h-10zM665 20h5v5h-5zM420 25h10v5h-10zM415 30h10v5h-10zM665 30h5v5h-5zM415 35h5v5h-5zM415 40h5v5h-5zM665 40h5v5h-5zM415 45h5v5h-5zM665 45h5v5h-5zM415 50h5v5h-5zM665 50h5v5h-5zM415 60h5v5h-5zM665 60h5v5h-5zM420 65h5v5h-5zM665 65h5v5h-5zM415 70h10v5h-10zM665 70h5v5h-5zM415 75h5v5h-5zM665 75h5v5h-5zM420 80h5v5h-5zM665 80h5v5h-5zM415 85h5v5h-5zM665 85h5v5h-5zM415 90h5v5h-5zM665 90h5v5h-5zM415 95h5v5h-5zM415 100h5v5h-5zM665 100h5v5h-5zM415 105h5v5h-5zM665 105h5v5h-5zM415 110h10v5h-10zM415 115h10v5h-10zM415 120h10v5h-10zM415 125h10v5h-10zM410 130h10v5h-10zM415 135h5v5h-5zM415 140h10v5h-10zM415 145h5v5h-5zM415 150h5v5h-5zM415 155h5v5h-5zM415 165h5v5h-5zM415 170h10v5h-10zM415 175h10v5h-10zM415 180h5v5h-5zM420 190h5v5h-5zM415 195h5v5h-5zM660 195h5v5h-5zM415 200h5v5h-5zM415 210h5v5h-5zM415 215h5v5h-5zM660 215h5v5h-5zM420 220h5v5h-5zM660 220h5v5h-5zM415 225h5v5h-5zM655 225h5v5h-5zM420 235h5v5h-5zM415 240h10v5h-10zM420 245h30v5h-30zM640 245h5v5h-5zM450 250h5v5h-5zM465 250h30v5h-30zM510 250h5v5h-5zM495 255h5v5h-5zM505 255h20v5h-20zM530 255h10v5h-10zM545 255h5v5h-5zM630 255h5v5h-5zM545 260h45v5h-45zM595 260h5v5h-5zM605 260h10v5h-10zM625 260h5v5h-5zM590 265h5v5h-5zM600 265h5v5h-5zM610 265h5v5h-5z"/>
<path fill="#c6c6c6" d="M470 15h5v5h-5zM560 15h20v5h-20zM585 15h5v5h-5zM440 20h5v5h-5zM410 30h5v5h-5zM410 35h5v5h-5zM410 40h5v5h-5zM410 45h5v5h-5zM670 45h5v5h-5zM410 50h5v5h-5zM410 55h10v5h-10zM410 60h5v5h-5zM410 65h10v5h-10zM405 70h5v5h-5zM415 80h5v5h-5zM410 85h5v5h-5zM410 90h5v5h-5zM410 95h5v5h-5zM665 95h5v5h-5zM410 100h5v5h-5zM410 105h5v5h-5zM410 110h5v5h-5zM665 110h5v5h-5zM410 115h5v5h-5zM665 115h5v5h-5zM665 120h5v5h-5zM410 125h5v5h-5zM665 125h5v5h-5zM665 130h5v5h-5zM665 135h5v5h-5zM410 140h5v5h-5zM665 140h5v5h-5zM410 145h5v5h-5zM665 145h5v5h-5zM410 150h5v5h-5zM665 150h5v5h-5zM410 155h5v5h-5zM410 160h10v5h-10zM665 160h5v5h-5zM410 165h5v5h-5zM665 170h5v5h-5zM410 175h5v5h-5zM410 180h5v5h-5zM665 180h5v5h-5zM410 185h10v5h-10zM410 190h10v5h-10zM410 195h5v5h-5zM410 205h10v5h-10zM410 220h10v5h-10zM415 230h5v5h-5zM415 235h5v5h-5zM650 235h5v5h-5zM645 240h5v5h-5zM415 245h5v5h-5zM425 250h25v5h-25zM455 250h10v5h-10zM635 250h5v5h-5zM470 255h10v5h-10zM485 255h10v5h-10zM500 255h5v5h-5zM525 255h5v5h-5zM495 260h10v5h-10zM520 260h25v5h-25zM630 260h5v5h-5zM550 265h10v5h-10zM565 265h25v5h-25zM595 265h5v5h-5zM605 265h5v5h-5zM615 265h10v5h-10zM595 270h5v5h-5zM605 270h5v5h-5zM615 270h10v5h-10z"/>
<path fill="#cccccc" d="M465 15h5v5h-5zM580 15h5v5h-5zM590 15h20v5h-20zM435 20h5v5h-5zM670 20h5v5h-5zM405 25h15v5h-15zM670 25h5v5h-5zM405 30h5v5h-5zM670 30h5v5h-5zM405 35h5v5h-5zM670 35h5v5h-5zM405 40h5v5h-5zM670 40h5v5h-5zM405 45h5v5h-5zM405 50h5v5h-5zM670 50h5v5h-5zM400 55h10v5h-10zM670 55h5v5h-5zM400 60h10v5h-10zM670 65h5v5h-5zM410 70h5v5h-5zM405 75h10v5h-10zM670 75h5v5h-5zM405 80h10v5h-10zM405 85h5v5h-5zM405 90h5v5h-5zM405 100h5v5h-5zM405 105h5v5h-5zM405 110h5v5h-5zM405 115h5v5h-5zM405 120h10v5h-10zM405 125h5v5h-5zM405 130h5v5h-5zM410 135h5v5h-5zM405 140h5v5h-5zM665 155h5v5h-5zM405 165h5v5h-5zM665 165h5v5h-5zM410 170h5v5h-5zM405 175h5v5h-5zM665 175h5v5h-5zM665 185h5v5h-5zM405 190h5v5h-5zM665 190h5v5h-5zM405 195h5v5h-5zM665 195h5v5h-5zM410 200h5v5h-5zM665 200h5v5h-5zM405 205h5v5h-5zM665 205h5v5h-5zM410 210h5v5h-5zM665 210h5v5h-5zM410 215h5v5h-5zM405 225h10v5h-10zM410 230h5v5h-5zM655 230h5v5h-5zM410 235h5v5h-5zM405 240h10v5h-10zM410 245h5v5h-5zM410 250h15v5h-15zM640 250h5v5h-5zM435 255h5v5h-5zM450 255h20v5h-20zM480 255h5v5h-5zM635 255h5v5h-5zM475 260h10v5h-10zM490 260h5v5h-5zM505 260h15v5h-15zM515 265h5v5h-5zM525 265h5v5h-5zM535 265h15v5h-15zM560 265h5v5h-5zM625 265h5v5h-5zM545 270h5v5h-5zM570 270h25v5h-25zM600 270h5v5h-5zM610 270h5v5h-5zM625 270h5v5h-5zM605 275h10v5h-10zM620 275h5v5h-5z"/>
<path fill="#d2d2d2" d="M460 15h5v5h-5zM610 15h20v5h-20zM640 15h5v5h-5zM395 30h10v5h-10zM400 35h5v5h-5zM400 40h5v5h-5zM400 45h5v5h-5zM395 50h10v5h-10zM670 60h5v5h-5zM400 65h10v5h-10zM400 70h5v5h-5zM670 70h5v5h-5zM400 75h5v5h-5zM670 80h5v5h-5zM400 85h5v5h-5zM670 85h5v5h-5zM400 90h5v5h-5zM670 90h5v5h-5zM405 95h5v5h-5zM670 95h5v5h-5zM400 100h5v5h-5zM400 105h5v5h-5zM670 105h5v5h-5zM400 110h5v5h-5zM400 115h5v5h-5zM400 120h5v5h-5zM400 125h5v5h-5zM400 130h5v5h-5zM400 135h10v5h-10zM400 140h5v5h-5zM400 145h10v5h-10zM400 150h10v5h-10zM400 155h10v5h-10zM405 160h5v5h-5zM405 170h5v5h-5zM400 175h5v5h-5zM405 180h5v5h-5zM405 185h5v5h-5zM405 200h5v5h-5zM400 210h10v5h-10zM400 215h10v5h-10zM665 215h5v5h-5zM405 220h5v5h-5zM660 225h5v5h-5zM405 230h5v5h-5zM405 235h5v5h-5zM650 240h5v5h-5zM405 245h5v5h-5zM645 245h5v5h-5zM405 250h5v5h-5zM410 255h25v5h-25zM440 255h10v5h-10zM440 260h35v5h-35zM485 260h5v5h-5zM635 260h5v5h-5zM485 265h30v5h-30zM520 265h5v5h-5zM530 265h5v5h-5zM630 265h5v5h-5zM535 270h10v5h-10zM550 270h20v5h-20zM630 270h5v5h-5zM560 275h5v5h-5zM570 275h35v5h-35zM615 275h5v5h-5zM625 275h5v5h-5zM610 280h10v5h-10z"/>
<path fill="#d9d9d9" d="M645 0h20v5h-20zM640 5h25v5h-25zM455 10h10v5h-10zM480 10h5v5h-5zM510 10h5v5h-5zM635 10h35v5h-35zM455 15h5v5h-5zM630 15h10v5h-10zM645 15h30v5h-30zM425 20h10v5h-10zM400 25h5v5h-5zM675 30h5v5h-5zM395 35h5v5h-5zM395 45h5v5h-5zM395 55h5v5h-5zM395 60h5v5h-5zM395 65h5v5h-5zM395 70h5v5h-5zM395 80h10v5h-10zM395 85h5v5h-5zM395 90h5v5h-5zM395 95h10v5h-10zM395 100h5v5h-5zM670 100h5v5h-5zM395 105h5v5h-5zM395 110h5v5h-5zM670 110h5v5h-5zM670 115h5v5h-5zM670 120h5v5h-5zM395 125h5v5h-5zM670 125h5v5h-5zM395 130h5v5h-5zM670 130h5v5h-5zM395 135h5v5h-5zM670 135h5v5h-5zM670 140h5v5h-5zM395 145h5v5h-5zM670 145h5v5h-5zM395 150h5v5h-5zM400 160h5v5h-5zM395 165h10v5h-10zM400 170h5v5h-5zM400 180h5v5h-5zM400 185h5v5h-5zM400 190h5v5h-5zM400 195h5v5h-5zM400 200h5v5h-5zM400 205h5v5h-5zM400 220h5v5h-5zM665 220h5v5h-5zM400 225h5v5h-5zM400 230h5v5h-5zM400 235h5v5h-5zM655 235h5v5h-5zM400 245h5v5h-5zM400 250h5v5h-5zM645 250h5v5h-5zM405 255h5v5h-5zM640 255h5v5h-5zM415 260h5v5h-5zM425 260h15v5h-15zM465 265h20v5h-20zM635 265h5v5h-5zM505 270h30v5h-30zM540 275h20v5h-20zM565 275h5v5h-5zM570 280h40v5h-40zM620 280h5v5h-5zM600 285h20v5h-20z"/>
<path fill="#dfdfdf" d="M480 0h40v5h-40zM640 0h5v5h-5zM665 0h10v5h-10zM450 5h10v5h-10zM475 5h45v5h-45zM635 5h5v5h-5zM665 5h10v5h-10zM450 10h5v5h-5zM485 10h25v5h-25zM530 10h5v5h-5zM615 10h5v5h-5zM630 10h5v5h-5zM670 10h5v5h-5zM420 15h10v5h-10zM450 15h5v5h-5zM675 20h5v5h-5zM395 25h5v5h-5zM675 25h5v5h-5zM385 30h10v5h-10zM385 35h10v5h-10zM675 35h5v5h-5zM385 40h15v5h-15zM675 40h5v5h-5zM390 45h5v5h-5zM390 50h5v5h-5zM390 55h5v5h-5zM390 60h5v5h-5zM390 65h5v5h-5zM390 70h5v5h-5zM390 75h10v5h-10zM390 80h5v5h-5zM390 85h5v5h-5zM390 90h5v5h-5zM390 95h5v5h-5zM390 100h5v5h-5zM390 105h5v5h-5zM390 115h10v5h-10zM395 120h5v5h-5zM390 130h5v5h-5zM390 135h5v5h-5zM395 140h5v5h-5zM670 150h5v5h-5zM390 155h10v5h-10zM670 155h5v5h-5zM395 160h5v5h-5zM670 160h5v5h-5zM390 170h10v5h-10zM670 170h5v5h-5zM395 175h5v5h-5zM395 180h5v5h-5zM395 185h5v5h-5zM395 190h5v5h-5zM395 195h5v5h-5zM395 200h5v5h-5zM395 205h5v5h-5zM395 210h5v5h-5zM395 215h5v5h-5zM395 225h5v5h-5zM395 230h5v5h-5zM660 230h5v5h-5zM395 235h5v5h-5zM395 240h10v5h-10zM395 245h5v5h-5zM650 245h5v5h-5zM395 250h5v5h-5zM395 255h10v5h-10zM395 260h5v5h-5zM405 260h10v5h-10zM420 260h5v5h-5zM640 260h5v5h-5zM440 265h25v5h-25zM460 270h5v5h-5zM470 270h35v5h-35zM635 270h5v5h-5zM500 275h40v5h-40zM630 275h5v5h-5zM545 280h25v5h-25zM625 280h5v5h-5zM575 285h5v5h-5zM585 285h15v5h-15zM620 285h5v5h-5zM605 290h20v5h-20z"/>
<path fill="#e6e6e6" d="M445 0h10v5h-10zM475 0h5v5h-5zM520 0h25v5h-25zM675 0h10v5h-10zM445 5h5v5h-5zM520 5h20v5h-20zM555 5h5v5h-5zM675 5h5v5h-5zM415 10h10v5h-10zM445 10h5v5h-5zM475 10h5v5h-5zM515 10h15v5h-15zM535 10h10v5h-10zM550 10h10v5h-10zM570 10h5v5h-5zM675 10h5v5h-5zM415 15h5v5h-5zM675 15h5v5h-5zM415 20h10v5h-10zM390 25h5v5h-5zM385 45h5v5h-5zM675 45h5v5h-5zM385 50h5v5h-5zM675 50h5v5h-5zM385 55h5v5h-5zM675 55h5v5h-5zM385 60h5v5h-5zM675 60h5v5h-5zM385 65h5v5h-5zM675 65h5v5h-5zM675 70h5v5h-5zM385 75h5v5h-5zM675 75h10v5h-10zM385 80h5v5h-5zM675 80h15v5h-15zM675 85h15v5h-15zM385 90h5v5h-5zM385 100h5v5h-5zM385 110h10v5h-10zM390 120h5v5h-5zM390 125h5v5h-5zM390 140h5v5h-5zM390 145h5v5h-5zM390 150h5v5h-5zM390 160h5v5h-5zM390 165h5v5h-5zM670 165h5v5h-5zM390 175h5v5h-5zM670 175h5v5h-5zM390 180h5v5h-5zM670 180h5v5h-5zM390 185h5v5h-5zM670 185h5v5h-5zM390 190h5v5h-5zM670 190h10v5h-10zM390 195h5v5h-5zM670 195h15v5h-15zM390 200h5v5h-5zM685 200h5v5h-5zM390 205h5v5h-5zM390 210h5v5h-5zM670 210h5v5h-5zM390 215h5v5h-5zM390 220h10v5h-10zM665 225h5v5h-5zM390 230h5v5h-5zM390 235h5v5h-5zM660 235h5v5h-5zM655 240h5v5h-5zM390 250h5v5h-5zM390 255h5v5h-5zM645 255h5v5h-5zM400 260h5v5h-5zM415 265h25v5h-25zM640 265h5v5h-5zM450 270h10v5h-10zM465 270h5v5h-5zM480 275h20v5h-20zM510 280h35v5h-35zM630 280h5v5h-5zM535 285h5v5h-5zM550 285h25v5h-25zM580 285h5v5h-5zM625 285h5v5h-5zM575 290h30v5h-30zM615 295h10v5h-10z"/>
<path fill="#ececec" d="M405 0h10v5h-10zM440 0h5v5h-5zM470 0h5v5h-5zM545 0h35v5h-35zM685 0h5v5h-5zM405 5h15v5h-15zM440 5h5v5h-5zM470 5h5v5h-5zM540 5h15v5h-15zM560 5h20v5h-20zM680 5h10v5h-10zM405 10h10v5h-10zM440 10h5v5h-5zM470 10h5v5h-5zM560 10h10v5h-10zM575 10h5v5h-5zM680 10h5v5h-5zM405 15h10v5h-10zM440 15h10v5h-10zM380 20h10v5h-10zM405 20h10v5h-10zM380 25h10v5h-10zM380 30h5v5h-5zM380 35h5v5h-5zM380 40h5v5h-5zM380 45h5v5h-5zM380 50h5v5h-5zM380 55h5v5h-5zM380 60h5v5h-5zM380 65h5v5h-5zM380 70h10v5h-10zM680 70h5v5h-5zM380 75h5v5h-5zM685 75h5v5h-5zM380 80h5v5h-5zM385 85h5v5h-5zM675 90h15v5h-15zM385 95h5v5h-5zM675 95h15v5h-15zM675 100h15v5h-15zM380 105h10v5h-10zM675 105h15v5h-15zM675 110h15v5h-15zM385 115h5v5h-5zM675 115h15v5h-15zM385 120h5v5h-5zM675 120h15v5h-15zM380 125h10v5h-10zM675 125h15v5h-15zM385 130h5v5h-5zM685 130h5v5h-5zM385 135h5v5h-5zM385 140h5v5h-5zM675 140h5v5h-5zM385 145h5v5h-5zM385 150h5v5h-5zM385 155h5v5h-5zM385 160h5v5h-5zM385 165h5v5h-5zM385 170h5v5h-5zM385 175h5v5h-5zM385 180h5v5h-5zM385 185h5v5h-5zM675 185h5v5h-5zM385 190h5v5h-5zM680 190h5v5h-5zM385 195h5v5h-5zM685 195h5v5h-5zM385 200h5v5h-5zM670 200h15v5h-15zM385 205h5v5h-5zM670 205h20v5h-20zM385 210h5v5h-5zM675 210h15v5h-15zM670 215h20v5h-20zM385 220h5v5h-5zM670 220h5v5h-5zM680 220h10v5h-10zM390 225h5v5h-5zM665 235h5v5h-5zM390 240h5v5h-5zM665 240h5v5h-5zM390 245h5v5h-5zM650 250h5v5h-5zM390 260h5v5h-5zM645 260h10v5h-10zM390 265h25v5h-25zM420 270h20v5h-20zM445 270h5v5h-5zM640 270h5v5h-5zM455 275h25v5h-25zM635 275h5v5h-5zM485 280h25v5h-25zM520 285h15v5h-15zM540 285h10v5h-10zM630 285h5v5h-5zM550 290h25v5h-25zM625 290h5v5h-5zM570 295h5v5h-5zM585 295h30v5h-30zM615 300h5v5h-5z"/>
<path fill="#f2f2f2" d="M345 0h20v5h-20zM395 0h10v5h-10zM430 0h10v5h-10zM455 0h15v5h-15zM580 0h25v5h-25zM350 5h25v5h-25zM395 5h10v5h-10zM430 5h10v5h-10zM460 5h10v5h-10zM580 5h20v5h-20zM355 10h25v5h-25zM395 10h10v5h-10zM435 10h5v5h-5zM465 10h5v5h-5zM545 10h5v5h-5zM580 10h15v5h-15zM600 10h5v5h-5zM685 10h5v5h-5zM360 15h25v5h-25zM395 15h10v5h-10zM435 15h5v5h-5zM680 15h10v5h-10zM365 20h15v5h-15zM400 20h5v5h-5zM680 20h10v5h-10zM370 25h10v5h-10zM680 25h10v5h-10zM375 30h5v5h-5zM680 30h10v5h-10zM370 35h10v5h-10zM680 35h10v5h-10zM375 40h5v5h-5zM680 40h10v5h-10zM375 45h5v5h-5zM680 45h10v5h-10zM370 50h10v5h-10zM680 50h10v5h-10zM375 55h5v5h-5zM680 55h10v5h-10zM340 60h30v5h-30zM375 60h5v5h-5zM680 60h5v5h-5zM340 65h40v5h-40zM355 70h5v5h-5zM365 70h5v5h-5zM375 70h5v5h-5zM370 75h10v5h-10zM365 80h15v5h-15zM360 85h25v5h-25zM360 90h25v5h-25zM355 95h20v5h-20zM380 95h5v5h-5zM350 100h20v5h-20zM380 100h5v5h-5zM345 105h20v5h-20zM375 105h5v5h-5zM345 110h10v5h-10zM370 110h5v5h-5zM380 110h5v5h-5zM365 115h5v5h-5zM375 115h10v5h-10zM380 120h5v5h-5zM380 130h5v5h-5zM675 130h10v5h-10zM375 135h10v5h-10zM675 135h15v5h-15zM380 140h5v5h-5zM680 140h10v5h-10zM380 145h5v5h-5zM675 145h15v5h-15zM380 150h5v5h-5zM675 150h15v5h-15zM380 155h5v5h-5zM675 155h15v5h-15zM380 160h5v5h-5zM675 160h15v5h-15zM380 165h5v5h-5zM680 165h10v5h-10zM380 170h5v5h-5zM675 170h5v5h-5zM380 175h5v5h-5zM380 180h5v5h-5zM380 185h5v5h-5zM380 190h5v5h-5zM380 195h5v5h-5zM375 200h5v5h-5zM370 205h15v5h-15zM365 210h20v5h-20zM375 215h5v5h-5zM385 215h5v5h-5zM675 220h5v5h-5zM385 225h5v5h-5zM675 225h15v5h-15zM385 230h5v5h-5zM665 230h10v5h-10zM680 230h10v5h-10zM380 235h10v5h-10zM670 235h10v5h-10zM685 235h5v5h-5zM385 240h5v5h-5zM660 240h5v5h-5zM670 240h15v5h-15zM385 245h5v5h-5zM655 245h35v5h-35zM385 250h5v5h-5zM660 250h30v5h-30zM385 255h5v5h-5zM650 255h10v5h-10zM675 255h15v5h-15zM385 260h5v5h-5zM655 260h10v5h-10zM680 260h10v5h-10zM380 265h10v5h-10zM645 265h25v5h-25zM685 265h5v5h-5zM405 270h15v5h-15zM440 270h5v5h-5zM645 270h30v5h-30zM400 275h10v5h-10zM425 275h30v5h-30zM645 275h35v5h-35zM430 280h15v5h-15zM450 280h35v5h-35zM635 280h10v5h-10zM650 280h35v5h-35zM430 285h10v5h-10zM445 285h25v5h-25zM490 285h30v5h-30zM635 285h15v5h-15zM660 285h25v5h-25zM450 290h15v5h-15zM490 290h15v5h-15zM515 290h35v5h-35zM630 290h25v5h-25zM670 290h10v5h-10zM445 295h15v5h-15zM490 295h15v5h-15zM515 295h15v5h-15zM545 295h25v5h-25zM575 295h10v5h-10zM625 295h30v5h-30zM675 295h5v5h-5zM485 300h20v5h-20zM515 300h10v5h-10zM545 300h10v5h-10zM575 300h40v5h-40zM620 300h5v5h-5zM630 300h30v5h-30zM485 305h20v5h-20zM575 305h10v5h-10zM595 305h5v5h-5zM610 305h10v5h-10zM625 305h5v5h-5zM635 305h5v5h-5zM645 305h20v5h-20zM480 310h30v5h-30zM615 310h20v5h-20zM650 310h20v5h-20zM475 315h30v5h-30zM615 315h25v5h-25zM655 315h15v5h-15zM470 320h30v5h-30zM615 320h30v5h-30zM660 320h5v5h-5zM615 325h35v5h-35zM615 330h40v5h-40z"/>
<path fill="#f9f9f9" d="M340 0h5v5h-5zM365 0h30v5h-30zM415 0h15v5h-15zM605 0h35v5h-35zM340 5h10v5h-10zM375 5h20v5h-20zM420 5h10v5h-10zM600 5h35v5h-35zM340 10h15v5h-15zM380 10h15v5h-15zM425 10h10v5h-10zM595 10h5v5h-5zM605 10h10v5h-10zM620 10h10v5h-10zM340 15h20v5h-20zM385 15h10v5h-10zM430 15h5v5h-5zM340 20h25v5h-25zM390 20h10v5h-10zM340 25h30v5h-30zM340 30h35v5h-35zM340 35h30v5h-30zM340 40h35v5h-35zM340 45h35v5h-35zM340 50h30v5h-30zM340 55h35v5h-35zM370 60h5v5h-5zM685 60h5v5h-5zM680 65h10v5h-10zM340 70h15v5h-15zM360 70h5v5h-5zM370 70h5v5h-5zM685 70h5v5h-5zM340 75h30v5h-30zM340 80h25v5h-25zM340 85h20v5h-20zM340 90h20v5h-20zM340 95h15v5h-15zM375 95h5v5h-5zM340 100h10v5h-10zM370 100h10v5h-10zM365 105h10v5h-10zM355 110h15v5h-15zM375 110h5v5h-5zM345 115h20v5h-20zM370 115h5v5h-5zM345 120h35v5h-35zM345 125h35v5h-35zM345 130h35v5h-35zM345 135h30v5h-30zM345 140h35v5h-35zM345 145h35v5h-35zM345 150h35v5h-35zM345 155h35v5h-35zM345 160h35v5h-35zM345 165h35v5h-35zM675 165h5v5h-5zM345 170h35v5h-35zM680 170h10v5h-10zM345 175h35v5h-35zM675 175h15v5h-15zM345 180h35v5h-35zM675 180h15v5h-15zM345 185h35v5h-35zM680 185h10v5h-10zM345 190h35v5h-35zM685 190h5v5h-5zM345 195h35v5h-35zM345 200h30v5h-30zM380 200h5v5h-5zM345 205h25v5h-25zM345 210h20v5h-20zM345 215h30v5h-30zM380 215h5v5h-5zM345 220h40v5h-40zM350 225h35v5h-35zM670 225h5v5h-5zM350 230h35v5h-35zM675 230h5v5h-5zM350 235h30v5h-30zM680 235h5v5h-5zM350 240h35v5h-35zM685 240h5v5h-5zM350 245h35v5h-35zM350 250h35v5h-35zM655 250h5v5h-5zM350 255h35v5h-35zM660 255h15v5h-15zM350 260h35v5h-35zM665 260h15v5h-15zM350 265h30v5h-30zM670 265h15v5h-15zM350 270h55v5h-55zM675 270h15v5h-15zM350 275h50v5h-50zM410 275h15v5h-15zM640 275h5v5h-5zM680 275h10v5h-10zM350 280h80v5h-80zM445 280h5v5h-5zM645 280h5v5h-5zM685 280h5v5h-5zM350 285h80v5h-80zM440 285h5v5h-5zM470 285h20v5h-20zM650 285h10v5h-10zM350 290h100v5h-100zM465 290h25v5h-25zM505 290h10v5h-10zM655 290h15v5h-15zM350 295h95v5h-95zM460 295h30v5h-30zM505 295h10v5h-10zM530 295h15v5h-15zM655 295h20v5h-20zM350 300h135v5h-135zM505 300h10v5h-10zM525 300h20v5h-20zM555 300h20v5h-20zM625 300h5v5h-5zM660 300h15v5h-15zM380 305h105v5h-105zM505 305h70v5h-70zM585 305h10v5h-10zM600 305h10v5h-10zM620 305h5v5h-5zM630 305h5v5h-5zM640 305h5v5h-5zM665 305h10v5h-10zM415 310h65v5h-65zM510 310h105v5h-105zM635 310h15v5h-15zM440 315h35v5h-35zM505 315h110v5h-110zM640 315h15v5h-15zM500 320h115v5h-115zM645 320h15v5h-15zM500 325h115v5h-115zM650 325h10v5h-10zM525 330h90v5h-90zM655 330h5v5h-5z"/>
</g></g>
<g clip-path="url(#ca)"><g filter="url(#fr)"><polygon points="27,31 143,16 340,21 331,225 279,320 42,275" fill="#000" fill-opacity="0.05"/><ellipse cx="55" cy="50" rx="39.0" ry="32.5" fill="url(#hz)" opacity="0.20"/><ellipse cx="60" cy="170" rx="39.0" ry="104.0" fill="url(#hz)" opacity="0.08"/><ellipse cx="215" cy="40" rx="117.0" ry="36.4" fill="url(#hz)" opacity="0.45"/><ellipse cx="215" cy="120" rx="91.0" ry="65.0" fill="url(#hz)" opacity="0.25"/><ellipse cx="180" cy="205" rx="104.0" ry="67.6" fill="url(#hz)" opacity="0.55"/><ellipse cx="275" cy="240" rx="65.0" ry="78.0" fill="url(#hz)" opacity="0.42"/><ellipse cx="130" cy="285" rx="91.0" ry="32.5" fill="url(#hz)" opacity="0.10"/><ellipse cx="320" cy="120" rx="26.0" ry="78.0" fill="url(#hz)" opacity="0.25"/><circle cx="34.9" cy="31.1" r="4.1" fill="url(#cl)"/><circle cx="32.6" cy="28.8" r="2.7" fill="url(#cl)"/><circle cx="35.1" cy="32.2" r="2.9" fill="url(#cl)"/><circle cx="37.8" cy="31.2" r="2.7" fill="url(#cl)"/><circle cx="33.8" cy="31.3" r="2.0" fill="url(#cl)"/><circle cx="34.9" cy="32.7" r="2.3" fill="url(#cl)"/><circle cx="57.2" cy="47.2" r="6.8" fill="url(#cl)"/><circle cx="51.6" cy="45.2" r="4.6" fill="url(#cl)"/><circle cx="53.0" cy="43.1" r="3.1" fill="url(#cl)"/><circle cx="59.1" cy="50.3" r="2.7" fill="url(#cl)"/><circle cx="60.2" cy="47.9" r="3.7" fill="url(#cl)"/><circle cx="60.4" cy="45.3" r="3.9" fill="url(#cl)"/><circle cx="87" cy="60.9" r="2.7" fill="url(#cl)"/><circle cx="86.4" cy="60.9" r="1.0" fill="url(#cl)"/><circle cx="87.6" cy="62.4" r="1.2" fill="url(#cl)"/><circle cx="87.0" cy="60.9" r="1.9" fill="url(#cl)"/><circle cx="87.4" cy="61.4" r="1.9" fill="url(#cl)"/><circle cx="85.0" cy="60.8" r="1.7" fill="url(#cl)"/><circle cx="121.7" cy="98.1" r="8.2" fill="url(#cl)"/><circle cx="121.7" cy="97.4" r="4.7" fill="url(#cl)"/><circle cx="115.5" cy="97.8" r="4.2" fill="url(#cl)"/><circle cx="121.4" cy="97.9" r="4.2" fill="url(#cl)"/><circle cx="121.2" cy="99.1" r="5.6" fill="url(#cl)"/><circle cx="116.6" cy="102.9" r="4.9" fill="url(#cl)"/><circle cx="139.1" cy="55.9" r="5.4" fill="url(#cl)"/><circle cx="136.7" cy="54.0" r="3.4" fill="url(#cl)"/><circle cx="140.3" cy="57.6" r="2.5" fill="url(#cl)"/><circle cx="138.7" cy="56.2" r="4.0" fill="url(#cl)"/><circle cx="139.8" cy="59.0" r="2.7" fill="url(#cl)"/><circle cx="141.3" cy="53.7" r="2.3" fill="url(#cl)"/><circle cx="149" cy="84.4" r="5.4" fill="url(#cl)"/><circle cx="151.5" cy="80.7" r="3.9" fill="url(#cl)"/><circle cx="148.4" cy="84.1" r="2.4" fill="url(#cl)"/><circle cx="151.4" cy="83.2" r="2.4" fill="url(#cl)"/><circle cx="151.3" cy="82.4" r="3.2" fill="url(#cl)"/><circle cx="147.6" cy="85.8" r="2.5" fill="url(#cl)"/><circle cx="161.4" cy="67.1" r="6.8" fill="url(#cl)"/><circle cx="166.5" cy="68.3" r="3.7" fill="url(#cl)"/><circle cx="159.6" cy="66.5" r="4.5" fill="url(#cl)"/><circle cx="163.6" cy="67.4" r="2.6" fill="url(#cl)"/><circle cx="165.5" cy="71.1" r="4.2" fill="url(#cl)"/><circle cx="158.6" cy="68.5" r="4.8" fill="url(#cl)"/><circle cx="166.4" cy="44.7" r="9.5" fill="url(#cl)"/><circle cx="163.7" cy="48.8" r="6.0" fill="url(#cl)"/><circle cx="163.7" cy="48.1" r="6.3" fill="url(#cl)"/><circle cx="167.5" cy="44.0" r="6.9" fill="url(#cl)"/><circle cx="172.7" cy="44.9" r="6.5" fill="url(#cl)"/><circle cx="168.7" cy="47.3" r="6.5" fill="url(#cl)"/><circle cx="169.5" cy="30" r="9.5" fill="url(#cl)"/><circle cx="174.7" cy="30.5" r="6.4" fill="url(#cl)"/><circle cx="163.5" cy="29.5" r="4.4" fill="url(#cl)"/><circle cx="170.5" cy="32.9" r="4.2" fill="url(#cl)"/><circle cx="165.0" cy="36.5" r="5.6" fill="url(#cl)"/><circle cx="168.3" cy="31.9" r="7.0" fill="url(#cl)"/><circle cx="188.7" cy="32.3" r="6.8" fill="url(#cl)"/><circle cx="183.2" cy="34.3" r="3.9" fill="url(#cl)"/><circle cx="183.4" cy="31.6" r="4.4" fill="url(#cl)"/><circle cx="186.5" cy="31.1" r="4.8" fill="url(#cl)"/><circle cx="184.0" cy="35.2" r="2.7" fill="url(#cl)"/><circle cx="185.9" cy="33.6" r="5.0" fill="url(#cl)"/><circle cx="196.8" cy="34.3" r="10.9" fill="url(#cl)"/><circle cx="196.8" cy="42.0" r="6.8" fill="url(#cl)"/><circle cx="195.6" cy="28.4" r="8.0" fill="url(#cl)"/><circle cx="194.9" cy="37.6" r="4.9" fill="url(#cl)"/><circle cx="198.7" cy="34.9" r="7.8" fill="url(#cl)"/><circle cx="197.4" cy="33.4" r="6.5" fill="url(#cl)"/><circle cx="162.7" cy="103" r="6.8" fill="url(#cl)"/><circle cx="159.2" cy="103.5" r="4.2" fill="url(#cl)"/><circle cx="160.7" cy="108.4" r="3.7" fill="url(#cl)"/><circle cx="160.1" cy="100.3" r="3.0" fill="url(#cl)"/><circle cx="165.0" cy="103.9" r="4.5" fill="url(#cl)"/><circle cx="164.4" cy="99.0" r="2.8" fill="url(#cl)"/><circle cx="57.2" cy="146.5" r="6.8" fill="url(#cl)"/><circle cx="61.3" cy="144.0" r="4.8" fill="url(#cl)"/><circle cx="51.8" cy="145.7" r="2.7" fill="url(#cl)"/><circle cx="57.3" cy="146.5" r="3.2" fill="url(#cl)"/><circle cx="57.2" cy="147.6" r="4.0" fill="url(#cl)"/><circle cx="60.6" cy="147.4" r="3.0" fill="url(#cl)"/><circle cx="73.4" cy="134" r="4.1" fill="url(#cl)"/><circle cx="73.4" cy="133.9" r="2.0" fill="url(#cl)"/><circle cx="75.2" cy="133.3" r="2.8" fill="url(#cl)"/><circle cx="72.2" cy="132.2" r="1.8" fill="url(#cl)"/><circle cx="73.3" cy="133.9" r="2.8" fill="url(#cl)"/><circle cx="76.4" cy="133.2" r="1.6" fill="url(#cl)"/><circle cx="72" cy="141.5" r="4.1" fill="url(#cl)"/><circle cx="71.4" cy="142.5" r="1.7" fill="url(#cl)"/><circle cx="70.0" cy="139.5" r="2.0" fill="url(#cl)"/><circle cx="73.9" cy="139.3" r="1.7" fill="url(#cl)"/><circle cx="72.3" cy="138.4" r="1.8" fill="url(#cl)"/><circle cx="70.0" cy="140.5" r="2.5" fill="url(#cl)"/><circle cx="87" cy="168" r="6.8" fill="url(#cl)"/><circle cx="90.2" cy="170.2" r="4.2" fill="url(#cl)"/><circle cx="89.1" cy="163.7" r="3.4" fill="url(#cl)"/><circle cx="86.1" cy="162.9" r="4.8" fill="url(#cl)"/><circle cx="87.1" cy="168.1" r="4.2" fill="url(#cl)"/><circle cx="87.7" cy="171.3" r="5.0" fill="url(#cl)"/><circle cx="154" cy="151.4" r="9.5" fill="url(#cl)"/><circle cx="152.5" cy="152.8" r="5.2" fill="url(#cl)"/><circle cx="153.5" cy="150.7" r="4.9" fill="url(#cl)"/><circle cx="157.7" cy="155.5" r="6.5" fill="url(#cl)"/><circle cx="151.8" cy="153.6" r="5.5" fill="url(#cl)"/><circle cx="154.4" cy="153.4" r="4.7" fill="url(#cl)"/><circle cx="178.8" cy="158.9" r="6.8" fill="url(#cl)"/><circle cx="178.3" cy="159.0" r="4.5" fill="url(#cl)"/><circle cx="177.2" cy="158.1" r="2.7" fill="url(#cl)"/><circle cx="178.9" cy="158.1" r="2.9" fill="url(#cl)"/><circle cx="179.1" cy="159.3" r="4.9" fill="url(#cl)"/><circle cx="178.6" cy="160.7" r="4.7" fill="url(#cl)"/><circle cx="249.2" cy="56" r="8.2" fill="url(#cl)"/><circle cx="248.2" cy="55.1" r="4.4" fill="url(#cl)"/><circle cx="251.2" cy="54.2" r="5.2" fill="url(#cl)"/><circle cx="253.5" cy="59.0" r="5.4" fill="url(#cl)"/><circle cx="251.4" cy="51.7" r="4.2" fill="url(#cl)"/><circle cx="252.6" cy="57.5" r="5.4" fill="url(#cl)"/><circle cx="282.4" cy="39.4" r="6.8" fill="url(#cl)"/><circle cx="283.0" cy="40.9" r="3.9" fill="url(#cl)"/><circle cx="282.3" cy="34.1" r="2.9" fill="url(#cl)"/><circle cx="284.3" cy="43.8" r="4.2" fill="url(#cl)"/><circle cx="281.3" cy="33.6" r="4.9" fill="url(#cl)"/><circle cx="285.0" cy="35.5" r="3.6" fill="url(#cl)"/><circle cx="292.6" cy="111.7" r="8.2" fill="url(#cl)"/><circle cx="291.8" cy="110.7" r="5.4" fill="url(#cl)"/><circle cx="292.8" cy="106.6" r="4.4" fill="url(#cl)"/><circle cx="290.4" cy="113.8" r="3.2" fill="url(#cl)"/><circle cx="294.8" cy="108.5" r="4.2" fill="url(#cl)"/><circle cx="287.7" cy="110.2" r="4.2" fill="url(#cl)"/><circle cx="260.7" cy="125" r="8.2" fill="url(#cl)"/><circle cx="263.9" cy="119.3" r="4.2" fill="url(#cl)"/><circle cx="264.2" cy="129.1" r="6.1" fill="url(#cl)"/><circle cx="263.7" cy="129.1" r="5.6" fill="url(#cl)"/><circle cx="261.5" cy="124.6" r="3.3" fill="url(#cl)"/><circle cx="261.5" cy="124.9" r="3.6" fill="url(#cl)"/><circle cx="228.8" cy="103.3" r="5.4" fill="url(#cl)"/><circle cx="226.9" cy="102.3" r="3.6" fill="url(#cl)"/><circle cx="230.4" cy="107.4" r="2.5" fill="url(#cl)"/><circle cx="228.8" cy="103.0" r="3.0" fill="url(#cl)"/><circle cx="230.3" cy="103.6" r="2.7" fill="url(#cl)"/><circle cx="228.4" cy="101.2" r="2.2" fill="url(#cl)"/><circle cx="205.8" cy="112.2" r="5.4" fill="url(#cl)"/><circle cx="210.0" cy="112.1" r="3.9" fill="url(#cl)"/><circle cx="205.8" cy="114.1" r="2.5" fill="url(#cl)"/><circle cx="205.9" cy="112.3" r="3.1" fill="url(#cl)"/><circle cx="206.4" cy="112.8" r="3.8" fill="url(#cl)"/><circle cx="204.9" cy="112.3" r="3.4" fill="url(#cl)"/><circle cx="241.5" cy="84.1" r="4.1" fill="url(#cl)"/><circle cx="241.3" cy="86.0" r="2.0" fill="url(#cl)"/><circle cx="239.3" cy="83.9" r="2.4" fill="url(#cl)"/><circle cx="239.3" cy="85.8" r="2.9" fill="url(#cl)"/><circle cx="241.7" cy="84.5" r="1.7" fill="url(#cl)"/><circle cx="244.8" cy="83.7" r="1.9" fill="url(#cl)"/><circle cx="314.4" cy="82.8" r="4.1" fill="url(#cl)"/><circle cx="315.1" cy="82.7" r="2.3" fill="url(#cl)"/><circle cx="311.1" cy="82.9" r="1.6" fill="url(#cl)"/><circle cx="313.5" cy="84.8" r="1.6" fill="url(#cl)"/><circle cx="314.5" cy="84.5" r="2.9" fill="url(#cl)"/><circle cx="314.6" cy="79.8" r="2.7" fill="url(#cl)"/><circle cx="320.7" cy="110.9" r="4.1" fill="url(#cl)"/><circle cx="319.9" cy="108.0" r="2.6" fill="url(#cl)"/><circle cx="320.6" cy="109.8" r="1.8" fill="url(#cl)"/><circle cx="320.7" cy="110.3" r="2.9" fill="url(#cl)"/><circle cx="319.7" cy="110.2" r="3.0" fill="url(#cl)"/><circle cx="321.7" cy="112.4" r="1.7" fill="url(#cl)"/><circle cx="254.3" cy="139" r="4.1" fill="url(#cl)"/><circle cx="256.3" cy="138.6" r="2.8" fill="url(#cl)"/><circle cx="253.7" cy="141.8" r="2.6" fill="url(#cl)"/><circle cx="252.2" cy="136.3" r="2.2" fill="url(#cl)"/><circle cx="252.2" cy="140.3" r="2.8" fill="url(#cl)"/><circle cx="253.1" cy="141.1" r="1.8" fill="url(#cl)"/><circle cx="195.5" cy="155.6" r="5.4" fill="url(#cl)"/><circle cx="192.0" cy="154.4" r="2.2" fill="url(#cl)"/><circle cx="195.5" cy="155.5" r="4.0" fill="url(#cl)"/><circle cx="193.6" cy="156.0" r="3.5" fill="url(#cl)"/><circle cx="192.1" cy="155.1" r="2.2" fill="url(#cl)"/><circle cx="193.0" cy="154.6" r="3.9" fill="url(#cl)"/><circle cx="282.4" cy="126.2" r="4.1" fill="url(#cl)"/><circle cx="284.0" cy="126.6" r="2.5" fill="url(#cl)"/><circle cx="282.1" cy="126.1" r="2.4" fill="url(#cl)"/><circle cx="282.5" cy="126.9" r="2.9" fill="url(#cl)"/><circle cx="282.9" cy="127.7" r="2.7" fill="url(#cl)"/><circle cx="281.9" cy="124.3" r="2.8" fill="url(#cl)"/><circle cx="124.2" cy="197.2" r="10.9" fill="url(#cl)"/><circle cx="118.4" cy="198.5" r="7.4" fill="url(#cl)"/><circle cx="121.5" cy="191.7" r="5.7" fill="url(#cl)"/><circle cx="120.7" cy="195.8" r="7.1" fill="url(#cl)"/><circle cx="121.0" cy="200.2" r="7.2" fill="url(#cl)"/><circle cx="121.0" cy="197.1" r="7.5" fill="url(#cl)"/><circle cx="121.7" cy="222" r="10.9" fill="url(#cl)"/><circle cx="115.8" cy="227.5" r="7.3" fill="url(#cl)"/><circle cx="115.3" cy="224.2" r="4.2" fill="url(#cl)"/><circle cx="115.4" cy="227.2" r="6.4" fill="url(#cl)"/><circle cx="115.8" cy="219.8" r="6.8" fill="url(#cl)"/><circle cx="118.2" cy="220.0" r="4.8" fill="url(#cl)"/><circle cx="157.7" cy="252" r="10.9" fill="url(#cl)"/><circle cx="157.0" cy="254.7" r="5.8" fill="url(#cl)"/><circle cx="161.1" cy="252.0" r="5.9" fill="url(#cl)"/><circle cx="153.9" cy="256.0" r="7.9" fill="url(#cl)"/><circle cx="160.5" cy="249.7" r="5.2" fill="url(#cl)"/><circle cx="161.2" cy="248.9" r="6.9" fill="url(#cl)"/><circle cx="168.9" cy="219.6" r="8.2" fill="url(#cl)"/><circle cx="174.4" cy="222.3" r="4.0" fill="url(#cl)"/><circle cx="167.5" cy="219.6" r="4.3" fill="url(#cl)"/><circle cx="171.7" cy="214.4" r="4.5" fill="url(#cl)"/><circle cx="169.3" cy="216.4" r="4.2" fill="url(#cl)"/><circle cx="167.5" cy="219.2" r="4.0" fill="url(#cl)"/><circle cx="183.8" cy="227" r="8.2" fill="url(#cl)"/><circle cx="182.3" cy="221.7" r="3.2" fill="url(#cl)"/><circle cx="183.2" cy="221.2" r="4.4" fill="url(#cl)"/><circle cx="188.3" cy="228.9" r="3.8" fill="url(#cl)"/><circle cx="182.1" cy="224.9" r="5.0" fill="url(#cl)"/><circle cx="183.6" cy="230.4" r="4.7" fill="url(#cl)"/><circle cx="181.3" cy="179.9" r="8.2" fill="url(#cl)"/><circle cx="180.3" cy="178.8" r="6.0" fill="url(#cl)"/><circle cx="180.8" cy="182.0" r="3.8" fill="url(#cl)"/><circle cx="184.1" cy="181.1" r="5.4" fill="url(#cl)"/><circle cx="180.9" cy="178.5" r="3.5" fill="url(#cl)"/><circle cx="178.9" cy="184.8" r="4.6" fill="url(#cl)"/><circle cx="52.3" cy="269.2" r="6.8" fill="url(#cl)"/><circle cx="55.8" cy="267.4" r="4.1" fill="url(#cl)"/><circle cx="52.8" cy="264.8" r="3.4" fill="url(#cl)"/><circle cx="52.2" cy="271.8" r="3.8" fill="url(#cl)"/><circle cx="54.0" cy="271.2" r="4.2" fill="url(#cl)"/><circle cx="52.8" cy="269.8" r="3.0" fill="url(#cl)"/><circle cx="244.1" cy="188.1" r="8.2" fill="url(#cl)"/><circle cx="242.7" cy="194.8" r="3.1" fill="url(#cl)"/><circle cx="244.6" cy="189.2" r="4.5" fill="url(#cl)"/><circle cx="247.4" cy="188.4" r="3.6" fill="url(#cl)"/><circle cx="243.4" cy="193.7" r="3.6" fill="url(#cl)"/><circle cx="241.9" cy="186.2" r="4.3" fill="url(#cl)"/><circle cx="237.7" cy="221.3" r="9.5" fill="url(#cl)"/><circle cx="238.2" cy="220.1" r="6.9" fill="url(#cl)"/><circle cx="242.1" cy="217.8" r="3.7" fill="url(#cl)"/><circle cx="235.1" cy="217.0" r="6.3" fill="url(#cl)"/><circle cx="239.5" cy="229.0" r="6.7" fill="url(#cl)"/><circle cx="239.7" cy="223.0" r="3.7" fill="url(#cl)"/><circle cx="182.8" cy="225.1" r="9.5" fill="url(#cl)"/><circle cx="186.5" cy="218.4" r="7.1" fill="url(#cl)"/><circle cx="178.6" cy="221.5" r="6.0" fill="url(#cl)"/><circle cx="175.6" cy="221.7" r="5.7" fill="url(#cl)"/><circle cx="180.6" cy="228.8" r="3.6" fill="url(#cl)"/><circle cx="181.9" cy="219.4" r="5.1" fill="url(#cl)"/><circle cx="274.8" cy="230.3" r="9.5" fill="url(#cl)"/><circle cx="278.5" cy="225.2" r="4.8" fill="url(#cl)"/><circle cx="275.8" cy="230.8" r="4.2" fill="url(#cl)"/><circle cx="273.6" cy="233.8" r="6.9" fill="url(#cl)"/><circle cx="273.5" cy="237.7" r="6.0" fill="url(#cl)"/><circle cx="276.8" cy="227.6" r="3.6" fill="url(#cl)"/><circle cx="286.2" cy="262.2" r="9.5" fill="url(#cl)"/><circle cx="286.7" cy="260.2" r="4.1" fill="url(#cl)"/><circle cx="287.9" cy="256.8" r="4.3" fill="url(#cl)"/><circle cx="285.3" cy="270.0" r="4.5" fill="url(#cl)"/><circle cx="285.9" cy="261.2" r="6.5" fill="url(#cl)"/><circle cx="289.4" cy="265.1" r="3.7" fill="url(#cl)"/><circle cx="270.9" cy="257.1" r="8.2" fill="url(#cl)"/><circle cx="265.2" cy="255.2" r="3.3" fill="url(#cl)"/><circle cx="270.1" cy="262.5" r="4.9" fill="url(#cl)"/><circle cx="269.2" cy="261.2" r="4.5" fill="url(#cl)"/><circle cx="272.3" cy="255.5" r="5.4" fill="url(#cl)"/><circle cx="267.4" cy="253.1" r="4.2" fill="url(#cl)"/><circle cx="246.6" cy="273.7" r="6.8" fill="url(#cl)"/><circle cx="245.9" cy="269.6" r="3.5" fill="url(#cl)"/><circle cx="252.3" cy="274.6" r="4.4" fill="url(#cl)"/><circle cx="247.8" cy="277.9" r="3.3" fill="url(#cl)"/><circle cx="241.6" cy="274.7" r="3.7" fill="url(#cl)"/><circle cx="246.2" cy="275.5" r="2.7" fill="url(#cl)"/><circle cx="254.3" cy="292.9" r="8.2" fill="url(#cl)"/><circle cx="254.7" cy="294.8" r="3.6" fill="url(#cl)"/><circle cx="257.4" cy="294.2" r="3.7" fill="url(#cl)"/><circle cx="253.8" cy="286.3" r="3.9" fill="url(#cl)"/><circle cx="251.0" cy="291.3" r="3.3" fill="url(#cl)"/><circle cx="258.8" cy="297.4" r="4.5" fill="url(#cl)"/><circle cx="267.1" cy="303.1" r="5.4" fill="url(#cl)"/><circle cx="267.2" cy="302.8" r="3.3" fill="url(#cl)"/><circle cx="269.8" cy="300.0" r="2.1" fill="url(#cl)"/><circle cx="265.4" cy="302.9" r="3.6" fill="url(#cl)"/><circle cx="268.2" cy="303.7" r="3.7" fill="url(#cl)"/><circle cx="265.0" cy="303.5" r="4.0" fill="url(#cl)"/><circle cx="315.6" cy="175.3" r="8.2" fill="url(#cl)"/><circle cx="315.5" cy="175.6" r="4.3" fill="url(#cl)"/><circle cx="315.9" cy="175.8" r="4.8" fill="url(#cl)"/><circle cx="319.6" cy="174.1" r="5.0" fill="url(#cl)"/><circle cx="313.8" cy="178.9" r="5.4" fill="url(#cl)"/><circle cx="310.7" cy="172.3" r="4.7" fill="url(#cl)"/><circle cx="324.6" cy="198.3" r="6.8" fill="url(#cl)"/><circle cx="325.7" cy="201.6" r="3.8" fill="url(#cl)"/><circle cx="326.5" cy="201.5" r="4.6" fill="url(#cl)"/><circle cx="326.7" cy="200.7" r="4.4" fill="url(#cl)"/><circle cx="323.3" cy="199.2" r="3.5" fill="url(#cl)"/><circle cx="320.7" cy="197.2" r="4.0" fill="url(#cl)"/><circle cx="314.4" cy="226.4" r="8.2" fill="url(#cl)"/><circle cx="319.0" cy="230.0" r="5.9" fill="url(#cl)"/><circle cx="315.8" cy="227.5" r="3.6" fill="url(#cl)"/><circle cx="318.2" cy="221.1" r="3.2" fill="url(#cl)"/><circle cx="313.7" cy="227.6" r="4.5" fill="url(#cl)"/><circle cx="314.8" cy="226.2" r="3.6" fill="url(#cl)"/><circle cx="277.3" cy="185.5" r="5.4" fill="url(#cl)"/><circle cx="274.8" cy="185.7" r="3.6" fill="url(#cl)"/><circle cx="276.7" cy="185.8" r="2.8" fill="url(#cl)"/><circle cx="280.9" cy="185.1" r="2.3" fill="url(#cl)"/><circle cx="277.8" cy="184.1" r="3.6" fill="url(#cl)"/><circle cx="281.4" cy="185.8" r="2.4" fill="url(#cl)"/><circle cx="236" cy="51.5" r="15.3" fill="url(#cl)"/><circle cx="227.5" cy="53.9" r="8.7" fill="url(#cl)"/><circle cx="236.9" cy="53.1" r="7.4" fill="url(#cl)"/><circle cx="238.7" cy="52.4" r="6.5" fill="url(#cl)"/><circle cx="231.3" cy="52.5" r="9.1" fill="url(#cl)"/><circle cx="235.9" cy="51.9" r="7.6" fill="url(#cl)"/><circle cx="217.3" cy="197" r="12.2" fill="url(#cl)"/><circle cx="217.4" cy="194.3" r="6.4" fill="url(#cl)"/><circle cx="217.4" cy="192.6" r="8.7" fill="url(#cl)"/><circle cx="220.2" cy="195.4" r="8.0" fill="url(#cl)"/><circle cx="217.3" cy="198.5" r="6.6" fill="url(#cl)"/><circle cx="209.3" cy="191.0" r="5.3" fill="url(#cl)"/><circle cx="230" cy="20.7" r="5.6" fill="url(#cl)"/><circle cx="229.5" cy="18.4" r="2.4" fill="url(#cl)"/><circle cx="233.4" cy="20.1" r="2.4" fill="url(#cl)"/><circle cx="230.4" cy="20.4" r="2.3" fill="url(#cl)"/><circle cx="227.7" cy="24.7" r="2.2" fill="url(#cl)"/><circle cx="232.6" cy="19.2" r="2.3" fill="url(#cl)"/></g></g>
<g clip-path="url(#cb)"><g filter="url(#fr)"><polygon points="370,27 485.5,12 683.6,16.7 674,220.3 621.3,313.7 385.6,270.7" fill="#000" fill-opacity="0.06"/><ellipse cx="400" cy="85" rx="45.5" ry="91.0" fill="url(#hz)" opacity="0.18"/><ellipse cx="410" cy="240" rx="45.5" ry="45.5" fill="url(#hz)" opacity="0.25"/><ellipse cx="575" cy="30" rx="143.0" ry="28.6" fill="url(#hz)" opacity="0.28"/><ellipse cx="660" cy="130" rx="32.5" ry="143.0" fill="url(#hz)" opacity="0.22"/><ellipse cx="470" cy="55" rx="39.0" ry="45.5" fill="url(#hz)" opacity="0.20"/><ellipse cx="540" cy="260" rx="58.5" ry="32.5" fill="url(#hz)" opacity="0.10"/><ellipse cx="550" cy="120" rx="91.0" ry="78.0" fill="url(#hz)" opacity="0.10"/><circle cx="483" cy="60.4" r="5.4" fill="url(#cl)"/><circle cx="481.0" cy="59.5" r="3.2" fill="url(#cl)"/><circle cx="482.7" cy="57.2" r="4.1" fill="url(#cl)"/><circle cx="485.1" cy="63.6" r="2.9" fill="url(#cl)"/><circle cx="483.9" cy="56.2" r="4.1" fill="url(#cl)"/><circle cx="482.8" cy="62.5" r="4.0" fill="url(#cl)"/><circle cx="460.1" cy="65.2" r="4.8" fill="url(#cl)"/><circle cx="461.6" cy="64.7" r="3.5" fill="url(#cl)"/><circle cx="458.8" cy="66.1" r="3.1" fill="url(#cl)"/><circle cx="458.3" cy="65.5" r="2.5" fill="url(#cl)"/><circle cx="459.6" cy="65.4" r="1.9" fill="url(#cl)"/><circle cx="460.2" cy="62.8" r="3.0" fill="url(#cl)"/><circle cx="444.5" cy="135" r="3.4" fill="url(#cl)"/><circle cx="444.7" cy="134.4" r="1.6" fill="url(#cl)"/><circle cx="444.3" cy="135.9" r="2.2" fill="url(#cl)"/><circle cx="443.8" cy="135.7" r="2.1" fill="url(#cl)"/><circle cx="444.6" cy="135.3" r="2.2" fill="url(#cl)"/><circle cx="444.5" cy="134.1" r="2.1" fill="url(#cl)"/><circle cx="442.1" cy="150.7" r="2.7" fill="url(#cl)"/><circle cx="443.0" cy="150.9" r="1.6" fill="url(#cl)"/><circle cx="442.1" cy="151.5" r="1.6" fill="url(#cl)"/><circle cx="441.8" cy="150.5" r="1.7" fill="url(#cl)"/><circle cx="444.1" cy="151.8" r="1.2" fill="url(#cl)"/><circle cx="442.1" cy="151.2" r="2.0" fill="url(#cl)"/><circle cx="592.3" cy="53.2" r="7.2" fill="url(#cl)"/><circle cx="591.4" cy="56.9" r="5.4" fill="url(#cl)"/><circle cx="592.6" cy="53.1" r="4.1" fill="url(#cl)"/><circle cx="588.7" cy="50.6" r="3.6" fill="url(#cl)"/><circle cx="592.3" cy="53.2" r="2.8" fill="url(#cl)"/><circle cx="591.8" cy="53.1" r="3.3" fill="url(#cl)"/><circle cx="575.4" cy="27.9" r="5.4" fill="url(#cl)"/><circle cx="575.2" cy="28.2" r="2.1" fill="url(#cl)"/><circle cx="577.3" cy="27.0" r="2.5" fill="url(#cl)"/><circle cx="575.4" cy="27.9" r="2.5" fill="url(#cl)"/><circle cx="579.5" cy="26.9" r="3.3" fill="url(#cl)"/><circle cx="576.7" cy="28.7" r="2.1" fill="url(#cl)"/><circle cx="575.4" cy="66.4" r="4.9" fill="url(#cl)"/><circle cx="575.4" cy="66.5" r="2.1" fill="url(#cl)"/><circle cx="575.1" cy="66.1" r="2.1" fill="url(#cl)"/><circle cx="576.6" cy="65.6" r="2.4" fill="url(#cl)"/><circle cx="578.3" cy="68.2" r="3.1" fill="url(#cl)"/><circle cx="572.9" cy="65.6" r="2.0" fill="url(#cl)"/><circle cx="570.6" cy="147.1" r="5.8" fill="url(#cl)"/><circle cx="570.4" cy="150.1" r="4.3" fill="url(#cl)"/><circle cx="571.9" cy="144.1" r="3.3" fill="url(#cl)"/><circle cx="575.1" cy="147.5" r="2.3" fill="url(#cl)"/><circle cx="573.0" cy="149.7" r="4.0" fill="url(#cl)"/><circle cx="571.1" cy="144.8" r="2.6" fill="url(#cl)"/><circle cx="616.3" cy="131.4" r="4.1" fill="url(#cl)"/><circle cx="619.3" cy="132.1" r="3.0" fill="url(#cl)"/><circle cx="616.4" cy="134.5" r="2.1" fill="url(#cl)"/><circle cx="615.6" cy="133.1" r="1.5" fill="url(#cl)"/><circle cx="615.6" cy="131.7" r="2.6" fill="url(#cl)"/><circle cx="613.2" cy="131.4" r="2.9" fill="url(#cl)"/><circle cx="629.6" cy="164.5" r="4.9" fill="url(#cl)"/><circle cx="629.1" cy="165.6" r="3.6" fill="url(#cl)"/><circle cx="629.2" cy="164.5" r="1.9" fill="url(#cl)"/><circle cx="632.1" cy="164.4" r="1.9" fill="url(#cl)"/><circle cx="627.4" cy="164.3" r="2.6" fill="url(#cl)"/><circle cx="633.5" cy="163.3" r="2.1" fill="url(#cl)"/><circle cx="604.3" cy="209.4" r="5.8" fill="url(#cl)"/><circle cx="605.5" cy="211.1" r="4.0" fill="url(#cl)"/><circle cx="601.6" cy="206.8" r="3.5" fill="url(#cl)"/><circle cx="605.3" cy="213.5" r="2.2" fill="url(#cl)"/><circle cx="604.0" cy="208.5" r="3.2" fill="url(#cl)"/><circle cx="607.0" cy="209.0" r="2.3" fill="url(#cl)"/><circle cx="611.5" cy="193.7" r="4.1" fill="url(#cl)"/><circle cx="609.4" cy="194.7" r="1.6" fill="url(#cl)"/><circle cx="611.5" cy="193.8" r="2.4" fill="url(#cl)"/><circle cx="610.2" cy="194.9" r="2.0" fill="url(#cl)"/><circle cx="611.2" cy="193.2" r="2.9" fill="url(#cl)"/><circle cx="613.2" cy="193.3" r="2.2" fill="url(#cl)"/><circle cx="503.5" cy="199.7" r="5.4" fill="url(#cl)"/><circle cx="504.4" cy="198.6" r="3.7" fill="url(#cl)"/><circle cx="502.7" cy="203.0" r="2.7" fill="url(#cl)"/><circle cx="500.0" cy="197.1" r="2.2" fill="url(#cl)"/><circle cx="504.4" cy="197.3" r="2.8" fill="url(#cl)"/><circle cx="503.3" cy="200.0" r="2.6" fill="url(#cl)"/><circle cx="461.3" cy="179.7" r="2.0" fill="url(#cl)"/><circle cx="461.2" cy="179.6" r="1.3" fill="url(#cl)"/><circle cx="463.0" cy="179.3" r="1.4" fill="url(#cl)"/><circle cx="461.4" cy="179.4" r="1.5" fill="url(#cl)"/><circle cx="461.8" cy="181.2" r="1.4" fill="url(#cl)"/><circle cx="460.6" cy="179.1" r="0.9" fill="url(#cl)"/><circle cx="653.7" cy="172" r="5.4" fill="url(#cl)"/><circle cx="652.3" cy="171.8" r="2.3" fill="url(#cl)"/><circle cx="656.3" cy="174.8" r="3.9" fill="url(#cl)"/><circle cx="653.7" cy="172.0" r="2.6" fill="url(#cl)"/><circle cx="654.3" cy="172.7" r="3.2" fill="url(#cl)"/><circle cx="651.9" cy="173.0" r="2.5" fill="url(#cl)"/><circle cx="542.9" cy="55.6" r="8.2" fill="url(#cl)"/><circle cx="541.8" cy="53.8" r="4.3" fill="url(#cl)"/><circle cx="536.6" cy="57.1" r="3.8" fill="url(#cl)"/><circle cx="542.5" cy="53.4" r="5.8" fill="url(#cl)"/><circle cx="540.1" cy="57.8" r="5.7" fill="url(#cl)"/><circle cx="542.6" cy="55.0" r="3.5" fill="url(#cl)"/><circle cx="391" cy="58" r="8.8" fill="url(#cl)"/><circle cx="391.2" cy="58.0" r="4.3" fill="url(#cl)"/><circle cx="391.1" cy="58.0" r="3.8" fill="url(#cl)"/><circle cx="391.2" cy="58.6" r="4.9" fill="url(#cl)"/><circle cx="388.9" cy="56.7" r="3.7" fill="url(#cl)"/><circle cx="393.3" cy="52.2" r="5.2" fill="url(#cl)"/><circle cx="454.1" cy="27.2" r="8.8" fill="url(#cl)"/><circle cx="456.8" cy="30.4" r="5.4" fill="url(#cl)"/><circle cx="448.1" cy="30.1" r="4.6" fill="url(#cl)"/><circle cx="453.2" cy="27.1" r="5.2" fill="url(#cl)"/><circle cx="454.7" cy="21.6" r="4.2" fill="url(#cl)"/><circle cx="459.6" cy="26.9" r="4.7" fill="url(#cl)"/><circle cx="415.1" cy="92.9" r="7.1" fill="url(#cl)"/><circle cx="410.9" cy="95.4" r="3.1" fill="url(#cl)"/><circle cx="412.2" cy="89.5" r="4.0" fill="url(#cl)"/><circle cx="417.1" cy="90.8" r="3.9" fill="url(#cl)"/><circle cx="413.9" cy="98.5" r="3.5" fill="url(#cl)"/><circle cx="414.2" cy="90.5" r="5.2" fill="url(#cl)"/><circle cx="443.3" cy="164.5" r="8.2" fill="url(#cl)"/><circle cx="443.5" cy="164.4" r="6.1" fill="url(#cl)"/><circle cx="442.9" cy="164.2" r="4.6" fill="url(#cl)"/><circle cx="447.0" cy="165.7" r="3.6" fill="url(#cl)"/><circle cx="441.8" cy="166.1" r="4.9" fill="url(#cl)"/><circle cx="446.3" cy="158.5" r="4.1" fill="url(#cl)"/><circle cx="509" cy="150.2" r="6.5" fill="url(#cl)"/><circle cx="509.0" cy="150.2" r="3.3" fill="url(#cl)"/><circle cx="509.7" cy="150.0" r="4.5" fill="url(#cl)"/><circle cx="508.0" cy="148.8" r="4.3" fill="url(#cl)"/><circle cx="507.8" cy="155.1" r="2.6" fill="url(#cl)"/><circle cx="512.1" cy="153.1" r="3.5" fill="url(#cl)"/><circle cx="522.8" cy="143.5" r="6.5" fill="url(#cl)"/><circle cx="524.6" cy="145.8" r="3.2" fill="url(#cl)"/><circle cx="518.8" cy="142.2" r="4.5" fill="url(#cl)"/><circle cx="525.9" cy="144.7" r="4.8" fill="url(#cl)"/><circle cx="518.6" cy="144.6" r="2.7" fill="url(#cl)"/><circle cx="525.1" cy="141.1" r="4.6" fill="url(#cl)"/><circle cx="611.5" cy="82.1" r="9.4" fill="url(#cl)"/><circle cx="613.2" cy="75.1" r="3.7" fill="url(#cl)"/><circle cx="611.2" cy="80.5" r="4.5" fill="url(#cl)"/><circle cx="609.3" cy="86.4" r="5.8" fill="url(#cl)"/><circle cx="611.6" cy="82.1" r="4.2" fill="url(#cl)"/><circle cx="607.1" cy="87.2" r="5.5" fill="url(#cl)"/><circle cx="658.5" cy="35.1" r="5.3" fill="url(#cl)"/><circle cx="655.0" cy="34.8" r="3.3" fill="url(#cl)"/><circle cx="658.4" cy="35.5" r="2.9" fill="url(#cl)"/><circle cx="660.5" cy="33.2" r="2.1" fill="url(#cl)"/><circle cx="656.9" cy="35.8" r="3.1" fill="url(#cl)"/><circle cx="654.8" cy="32.8" r="2.6" fill="url(#cl)"/><circle cx="653.7" cy="161.3" r="8.8" fill="url(#cl)"/><circle cx="649.7" cy="163.9" r="6.2" fill="url(#cl)"/><circle cx="652.7" cy="157.8" r="6.0" fill="url(#cl)"/><circle cx="646.3" cy="162.0" r="4.2" fill="url(#cl)"/><circle cx="658.2" cy="165.9" r="4.3" fill="url(#cl)"/><circle cx="656.4" cy="157.5" r="5.0" fill="url(#cl)"/><circle cx="616.3" cy="240.7" r="8.8" fill="url(#cl)"/><circle cx="621.5" cy="243.9" r="3.5" fill="url(#cl)"/><circle cx="622.9" cy="239.2" r="4.3" fill="url(#cl)"/><circle cx="621.0" cy="245.6" r="4.9" fill="url(#cl)"/><circle cx="619.0" cy="243.4" r="4.1" fill="url(#cl)"/><circle cx="612.2" cy="243.4" r="6.3" fill="url(#cl)"/><circle cx="607.9" cy="235.9" r="5.9" fill="url(#cl)"/><circle cx="608.2" cy="235.1" r="3.3" fill="url(#cl)"/><circle cx="602.8" cy="236.2" r="2.4" fill="url(#cl)"/><circle cx="603.2" cy="235.6" r="3.1" fill="url(#cl)"/><circle cx="607.7" cy="238.8" r="2.9" fill="url(#cl)"/><circle cx="608.3" cy="235.7" r="2.7" fill="url(#cl)"/><circle cx="416.8" cy="250.3" r="5.3" fill="url(#cl)"/><circle cx="419.6" cy="251.9" r="2.6" fill="url(#cl)"/><circle cx="420.1" cy="247.9" r="3.8" fill="url(#cl)"/><circle cx="416.8" cy="250.3" r="2.7" fill="url(#cl)"/><circle cx="420.2" cy="249.5" r="2.1" fill="url(#cl)"/><circle cx="415.6" cy="246.3" r="3.9" fill="url(#cl)"/><circle cx="478.2" cy="183.6" r="5.9" fill="url(#cl)"/><circle cx="477.3" cy="179.3" r="4.1" fill="url(#cl)"/><circle cx="477.9" cy="184.0" r="3.8" fill="url(#cl)"/><circle cx="479.5" cy="185.1" r="4.4" fill="url(#cl)"/><circle cx="475.7" cy="182.6" r="4.3" fill="url(#cl)"/><circle cx="477.1" cy="188.6" r="4.2" fill="url(#cl)"/><circle cx="495.1" cy="190.1" r="5.3" fill="url(#cl)"/><circle cx="494.1" cy="191.2" r="2.2" fill="url(#cl)"/><circle cx="495.8" cy="189.7" r="2.0" fill="url(#cl)"/><circle cx="497.2" cy="188.3" r="3.3" fill="url(#cl)"/><circle cx="495.1" cy="189.9" r="2.2" fill="url(#cl)"/><circle cx="494.9" cy="190.1" r="3.0" fill="url(#cl)"/><circle cx="485.4" cy="47.1" r="5.5" fill="url(#cl)"/><circle cx="485.1" cy="43.9" r="3.3" fill="url(#cl)"/><circle cx="486.5" cy="47.4" r="3.9" fill="url(#cl)"/><circle cx="487.2" cy="48.9" r="2.2" fill="url(#cl)"/><circle cx="486.2" cy="46.8" r="2.9" fill="url(#cl)"/><circle cx="482.1" cy="46.1" r="4.0" fill="url(#cl)"/><circle cx="542.9" cy="55.6" r="6.1" fill="url(#cl)"/><circle cx="542.7" cy="53.7" r="2.5" fill="url(#cl)"/><circle cx="541.5" cy="50.6" r="2.3" fill="url(#cl)"/><circle cx="543.0" cy="54.7" r="3.4" fill="url(#cl)"/><circle cx="539.6" cy="55.1" r="4.6" fill="url(#cl)"/><circle cx="542.1" cy="53.7" r="3.9" fill="url(#cl)"/><circle cx="645.2" cy="167" r="4.9" fill="url(#cl)"/><circle cx="643.5" cy="167.4" r="2.5" fill="url(#cl)"/><circle cx="644.0" cy="167.1" r="2.3" fill="url(#cl)"/><circle cx="646.3" cy="168.5" r="2.4" fill="url(#cl)"/><circle cx="647.1" cy="163.9" r="2.5" fill="url(#cl)"/><circle cx="642.4" cy="164.4" r="2.5" fill="url(#cl)"/></g></g>
<g filter="url(#fs)"><circle cx="236" cy="51.5" r="12.5" fill="url(#sph)"/><circle cx="217.3" cy="197" r="10" fill="url(#sph)"/><circle cx="230" cy="20.7" r="4.6" fill="url(#sph)"/><circle cx="391" cy="58" r="7.2" fill="url(#sph)"/><circle cx="454.1" cy="27.2" r="7.2" fill="url(#sph)"/><circle cx="415.1" cy="92.9" r="5.8" fill="url(#sph)"/><circle cx="443.3" cy="164.5" r="6.7" fill="url(#sph)"/><circle cx="509" cy="150.2" r="5.3" fill="url(#sph)"/><circle cx="522.8" cy="143.5" r="5.3" fill="url(#sph)"/><circle cx="611.5" cy="82.1" r="7.7" fill="url(#sph)"/><circle cx="658.5" cy="35.1" r="4.3" fill="url(#sph)"/><circle cx="653.7" cy="161.3" r="7.2" fill="url(#sph)"/><circle cx="616.3" cy="240.7" r="7.2" fill="url(#sph)"/><circle cx="607.9" cy="235.9" r="4.8" fill="url(#sph)"/><circle cx="416.8" cy="250.3" r="4.3" fill="url(#sph)"/><circle cx="478.2" cy="183.6" r="4.8" fill="url(#sph)"/><circle cx="495.1" cy="190.1" r="4.3" fill="url(#sph)"/><circle cx="485.4" cy="47.1" r="4.5" fill="url(#sph)"/><circle cx="542.9" cy="55.6" r="5" fill="url(#sph)"/><circle cx="645.2" cy="167" r="4" fill="url(#sph)"/></g>
<path d="M27 31L143 16M143 16L340 21M340 21L331 225M331 225L279 320M279 320L42 275M42 275L27 31M370 27L485.5 12M485.5 12L683.6 16.7M683.6 16.7L674 220.3M674 220.3L621.3 313.7M621.3 313.7L385.6 270.7M385.6 270.7L370 27" stroke="#3a3a3a" stroke-width="1" fill="none" opacity="0.85"/>
<path d="M27 31L285 38M285 38L340 21M285 38L279 320M143 16L148 200M148 200L331 225M42 275L148 200M370 27L628 35M628 35L683.6 16.7M628 35L621.3 313.7M485.5 12L486 199M486 199L674 220.3M385.6 270.7L486 199" stroke="#333" stroke-width="0.9" fill="none" opacity="0.55"/>
<text class="lbl" x="-1" y="21">a</text>
<text class="lbl" x="369" y="21">b</text>
<text class="lbl" x="-1" y="364">c</text>
<g fill="none" stroke-linejoin="round" stroke-linecap="butt">
<polyline points="98.5,513.1 104.6,480 112.4,445 117.1,424.7 125.9,404.3 136.4,394.1 146,399.6 155.6,414.2 162.1,428.2 168.2,442.5 174.2,457.6 184,470 194.7,481.6 204.4,490.4 212.8,498.8 222.3,504.4 231.8,512 242.8,518.1 250,523 260,528.5 270,534.7 280.2,540.6 290.4,545.7 299.9,552.3 309.4,560.3 318.9,562 328.4,570.5 337.9,571.7 347.3,579.4 357.5,580.9 367,583.4 376.5,591.4 386,594.7 395.5,598 405.7,595.8 415.2,611.2 424.7,610.1 434.2,617.4 443.1,625.8 453.4,633.1 462.8,642.6 472.3,644 480.4,638.2 490.1,633.8 501.1,649.1 511,630.1 521.2,644 530.1,666.4 539.8,654.7 549.4,655.9 559.1,671.7 568.7,651.5" stroke="#000" stroke-width="2.6"/>
<polyline points="93.3,482 100.2,445 103.7,427 114.8,403.7 125.5,398.1 136.4,406 146.9,417.7 157.4,428.2 165.4,436.6 176.5,444.8 187.6,453.5 198.7,461.7 210.4,469.9 221.6,476.6 231.8,485 242.8,490.8 253.7,497.4 264.7,503.2 275.8,509.9 286,514.3 296.3,520.1 307.2,527.9 318.2,534 328.4,539.9 339.3,546.9 350.3,549.3 361.2,558.2 372.1,564.5 383.1,568.5 394,575.3 404.2,585.5 415.2,590.4 426.1,592.8 436.4,605 447.5,603.4 457.7,615.5 468.7,624.3 479.3,647.7 490.1,631.6 501.1,642.6 511.8,625.3 522.3,667.7 532.8,669.4 554.7,658.5 618.6,682.2" stroke="#ff0000" stroke-width="2.6"/>
</g>
<rect x="92.4" y="369.7" width="573.95" height="354.40000000000003" fill="none" stroke="#000" stroke-width="1.9"/>
<path d="M92.40 724.1v-10M92.40 369.7v10M178.79 724.1v-5M178.79 369.7v5M229.32 724.1v-5M229.32 369.7v5M265.18 724.1v-5M265.18 369.7v5M292.99 724.1v-5M292.99 369.7v5M315.71 724.1v-5M315.71 369.7v5M334.92 724.1v-5M334.92 369.7v5M351.56 724.1v-5M351.56 369.7v5M366.24 724.1v-5M366.24 369.7v5M379.38 724.1v-10M379.38 369.7v10M465.76 724.1v-5M465.76 369.7v5M516.30 724.1v-5M516.30 369.7v5M552.15 724.1v-5M552.15 369.7v5M579.96 724.1v-5M579.96 369.7v5M602.68 724.1v-5M602.68 369.7v5M621.90 724.1v-5M621.90 369.7v5M638.54 724.1v-5M638.54 369.7v5M653.22 724.1v-5M653.22 369.7v5M92.4 724.10h10M666.35 724.10h-10M92.4 710.76h5M666.35 710.76h-5M92.4 702.96h5M666.35 702.96h-5M92.4 697.43h5M666.35 697.43h-5M92.4 693.14h5M666.35 693.14h-5M92.4 689.63h5M666.35 689.63h-5M92.4 686.66h5M666.35 686.66h-5M92.4 684.09h5M666.35 684.09h-5M92.4 681.83h5M666.35 681.83h-5M92.4 679.80h10M666.35 679.80h-10M92.4 666.46h5M666.35 666.46h-5M92.4 658.66h5M666.35 658.66h-5M92.4 653.13h5M666.35 653.13h-5M92.4 648.84h5M666.35 648.84h-5M92.4 645.33h5M666.35 645.33h-5M92.4 642.36h5M666.35 642.36h-5M92.4 639.79h5M666.35 639.79h-5M92.4 637.53h5M666.35 637.53h-5M92.4 635.50h10M666.35 635.50h-10M92.4 622.16h5M666.35 622.16h-5M92.4 614.36h5M666.35 614.36h-5M92.4 608.83h5M666.35 608.83h-5M92.4 604.54h5M666.35 604.54h-5M92.4 601.03h5M666.35 601.03h-5M92.4 598.06h5M666.35 598.06h-5M92.4 595.49h5M666.35 595.49h-5M92.4 593.23h5M666.35 593.23h-5M92.4 591.20h10M666.35 591.20h-10M92.4 577.86h5M666.35 577.86h-5M92.4 570.06h5M666.35 570.06h-5M92.4 564.53h5M666.35 564.53h-5M92.4 560.24h5M666.35 560.24h-5M92.4 556.73h5M666.35 556.73h-5M92.4 553.76h5M666.35 553.76h-5M92.4 551.19h5M666.35 551.19h-5M92.4 548.93h5M666.35 548.93h-5M92.4 546.90h10M666.35 546.90h-10M92.4 533.56h5M666.35 533.56h-5M92.4 525.76h5M666.35 525.76h-5M92.4 520.23h5M666.35 520.23h-5M92.4 515.94h5M666.35 515.94h-5M92.4 512.43h5M666.35 512.43h-5M92.4 509.46h5M666.35 509.46h-5M92.4 506.89h5M666.35 506.89h-5M92.4 504.63h5M666.35 504.63h-5M92.4 502.60h10M666.35 502.60h-10M92.4 489.26h5M666.35 489.26h-5M92.4 481.46h5M666.35 481.46h-5M92.4 475.93h5M666.35 475.93h-5M92.4 471.64h5M666.35 471.64h-5M92.4 468.13h5M666.35 468.13h-5M92.4 465.16h5M666.35 465.16h-5M92.4 462.59h5M666.35 462.59h-5M92.4 460.33h5M666.35 460.33h-5M92.4 458.30h10M666.35 458.30h-10M92.4 444.96h5M666.35 444.96h-5M92.4 437.16h5M666.35 437.16h-5M92.4 431.63h5M666.35 431.63h-5M92.4 427.34h5M666.35 427.34h-5M92.4 423.83h5M666.35 423.83h-5M92.4 420.86h5M666.35 420.86h-5M92.4 418.29h5M666.35 418.29h-5M92.4 416.03h5M666.35 416.03h-5M92.4 414.00h10M666.35 414.00h-10M92.4 400.66h5M666.35 400.66h-5M92.4 392.86h5M666.35 392.86h-5M92.4 387.33h5M666.35 387.33h-5M92.4 383.04h5M666.35 383.04h-5M92.4 379.53h5M666.35 379.53h-5M92.4 376.56h5M666.35 376.56h-5M92.4 373.99h5M666.35 373.99h-5M92.4 371.73h5M666.35 371.73h-5" stroke="#000" stroke-width="1.4" fill="none"/>
<g class="t">
<text x="83.6" y="378.1" text-anchor="end">10<tspan class="sup" dy="-5.6">4</tspan></text><text x="83.6" y="422.4" text-anchor="end">10<tspan class="sup" dy="-5.6">3</tspan></text><text x="83.6" y="466.7" text-anchor="end">10<tspan class="sup" dy="-5.6">2</tspan></text><text x="83.6" y="511.0" text-anchor="end">10<tspan class="sup" dy="-5.6">1</tspan></text><text x="83.6" y="555.3" text-anchor="end">10<tspan class="sup" dy="-5.6">0</tspan></text><text x="83.6" y="599.6" text-anchor="end">10<tspan class="sup" dy="-5.6">−1</tspan></text><text x="83.6" y="643.9" text-anchor="end">10<tspan class="sup" dy="-5.6">−2</tspan></text><text x="83.6" y="688.2" text-anchor="end">10<tspan class="sup" dy="-5.6">−3</tspan></text><text x="83.6" y="732.5" text-anchor="end">10<tspan class="sup" dy="-5.6">−4</tspan></text>
<text x="75.1" y="752.6">10<tspan class="sup" dy="-5.6" dx="-0.8">−3</tspan></text><text x="362.1" y="752.6">10<tspan class="sup" dy="-5.6" dx="-0.8">−2</tspan></text><text x="649.1" y="752.6">10<tspan class="sup" dy="-5.6" dx="-0.8">−1</tspan></text>
</g>
<text class="t" x="373" y="780.6" font-style="italic">A</text><text x="385.5" y="786" style="font-size:14px">i</text>
<g transform="translate(30 567.5) rotate(-90)"><text class="t" x="0" y="0"><tspan font-style="italic">P</tspan>(<tspan font-style="italic">A</tspan><tspan style="font-size:14px" dy="4">i</tspan><tspan dy="-4">)</tspan></text></g>
<path d="M400.5 416.5H421.5" stroke="#000" stroke-width="2.6" stroke-linecap="round"/>
<path d="M400.5 450.5H421.5" stroke="#f00" stroke-width="2.6" stroke-linecap="round"/>
<text class="t" x="434" y="421"><tspan font-style="italic">T</tspan><tspan style="font-size:14.5px" dy="6.5">P</tspan><tspan dy="-6.5"> = 0.062</tspan></text>
<text class="t" x="434" y="455"><tspan font-style="italic">T</tspan><tspan style="font-size:14.5px" dy="6.5">P</tspan><tspan dy="-6.5"> = 0.200</tspan></text>
</svg>
</body></html>
